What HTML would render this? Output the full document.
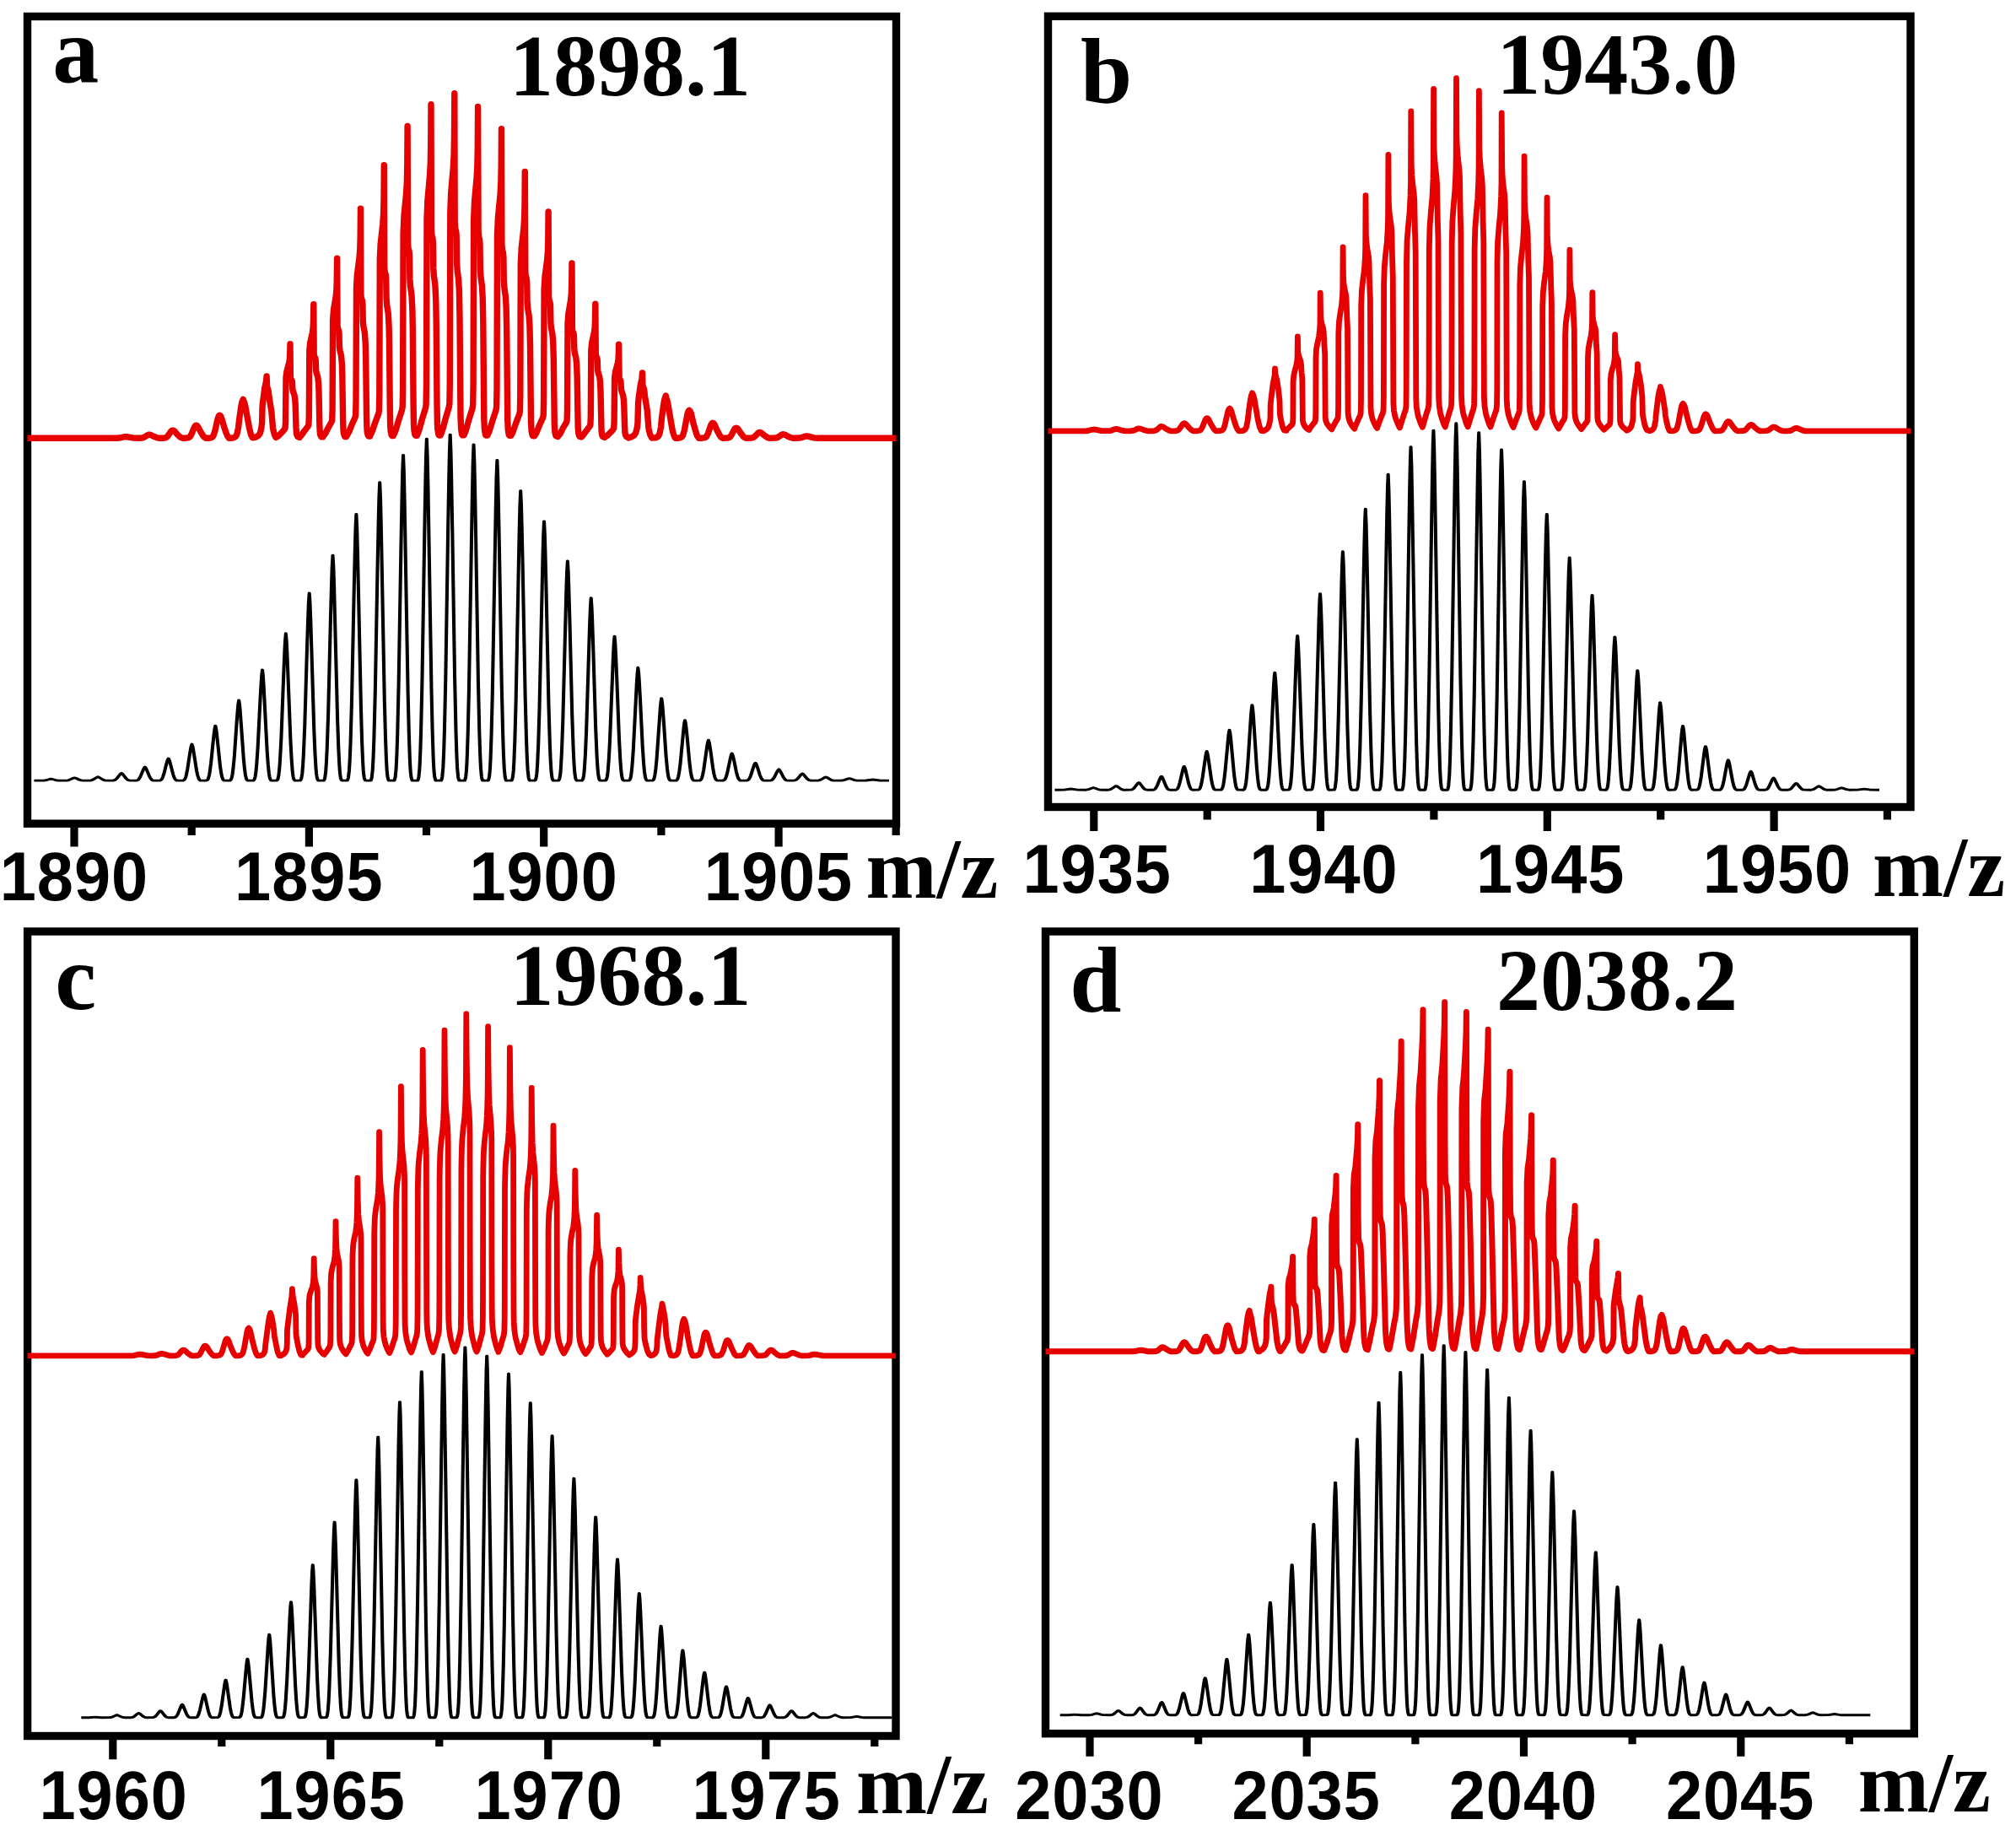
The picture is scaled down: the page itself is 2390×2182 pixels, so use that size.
<!DOCTYPE html>
<html lang="en"><head><meta charset="utf-8"><title>Mass spectra a-d</title>
<style>
html,body{margin:0;padding:0;background:#fff;}
body{width:2390px;height:2182px;overflow:hidden;}
svg{display:block;}
text{fill:#000;font-weight:bold;}
.tk{font-family:"Liberation Sans",sans-serif;font-size:77.5px;text-anchor:middle;letter-spacing:1px;}
.mz{font-family:"Liberation Serif",serif;font-size:101px;}
.lt{font-family:"Liberation Serif",serif;font-size:110px;}
.pk{font-family:"Liberation Serif",serif;font-size:104px;}
</style></head>
<body>
<svg width="2390" height="2182" viewBox="0 0 2390 2182" role="img" aria-label="Mass spectra panels a to d">
<rect x="0" y="0" width="2390" height="2182" fill="#fff"/>
<g id="panel-a">
<rect x="32.5" y="19.5" width="1030" height="956.7" fill="none" stroke="#000" stroke-width="9.4"/>
<path transform="scale(1.4 1)" d="M28.86 925.1L37.36 925L39.22 924.6L42.08 923.5L43.22 923.2L44.36 923.5L47.22 924.6L48.93 925L56.53 925.1L57.67 924.8L58.67 924.4L61.96 922.3L63.1 921.9L64.24 922.3L67.1 924.2L68.81 924.9L70.53 925.1L76.12 925.1L77.27 924.9L78.41 924.3L81.98 921.3L82.98 920.8L84.13 921.5L86.98 924L88.7 924.9L90.41 925.1L95.86 925L97.15 924.6L98.29 923.5L99.15 922.3L101.86 917.5L102.29 916.9L102.86 916.5L103.44 916.9L104.01 917.7L106.86 922.8L107.72 923.9L108.58 924.6L109.29 924.9L110.29 925.1L115.46 925.1L116.18 924.9L116.89 924.4L117.46 923.6L118.03 922.5L119.03 919.9L121.75 911L122.17 909.9L122.75 909.1L123.32 909.9L123.89 911.4L126.75 920.8L127.6 922.8L128.46 924.2L129.18 924.8L130.18 925.1L135.2 925.1L135.91 924.8L136.63 924.1L137.34 922.7L137.91 920.9L138.91 916.7L140.77 906.3L141.63 902.1L142.06 900.3L142.63 899L143.2 900.3L143.77 902.7L146.63 918L147.49 921.4L148.34 923.6L149.06 924.6L150.06 925.1L155.08 925.1L155.8 924.6L156.51 923.5L157.23 921.1L157.8 918.2L158.8 911.2L160.65 894.1L161.51 887.2L161.94 884.3L162.51 882.1L163.08 884.3L163.65 888.3L166.51 913.5L167.37 919L168.23 922.7L168.94 924.3L169.37 924.8L169.94 925.1L174.96 925L175.68 924.4L176.39 922.7L177.11 919L177.68 914.6L178.68 904.2L180.54 878.3L181.39 867.9L181.82 863.6L182.39 860.2L182.96 863.6L183.54 869.6L186.39 907.6L187.25 915.8L187.96 920.7L188.68 923.5L189.11 924.4L189.68 924.9L190.11 925.1L194.7 925.1L195.13 924.7L195.56 924.1L196.28 921.6L196.85 917.5L197.42 911.5L198.42 897L200.42 856.5L201.28 841.2L201.7 834.9L202.28 829.9L202.85 834.9L203.42 843.6L206.28 899.4L207.13 911.5L207.85 918.7L208.56 922.8L208.99 924.1L209.56 924.9L209.99 925.1L214.59 925.1L215.01 924.6L215.44 923.7L216.16 920.2L216.73 914.6L217.3 906.4L218.3 886.4L220.3 830.5L221.16 809.4L221.59 800.7L222.16 793.9L222.73 800.7L223.3 812.8L226.16 889.7L227.01 906.4L227.73 916.2L228.16 920.2L228.44 921.9L228.87 923.7L229.44 924.8L229.87 925.1L234.47 925L234.9 924.4L235.33 923.2L236.04 918.6L236.61 911.2L237.18 900.2L238.18 873.7L240.18 799.5L241.04 771.4L241.47 759.8L242.04 750.8L242.61 759.8L243.18 775.9L246.04 878L246.9 900.2L247.61 913.3L248.04 918.6L248.33 920.9L248.75 923.2L249.33 924.7L249.75 925.1L254.35 925L254.78 924.2L255.21 922.7L255.92 916.9L256.49 907.3L257.06 893.4L258.06 859.6L260.06 765L260.92 729.3L261.35 714.5L261.92 703L262.49 714.5L263.06 735L265.92 865.1L266.78 893.4L267.49 910.1L267.92 916.9L268.21 919.7L268.64 922.7L269.21 924.6L269.64 925.1L274.23 925L274.66 924L275.09 922.3L275.8 915.2L276.38 903.7L276.95 887L277.95 846.4L279.95 732.7L280.8 689.8L281.23 672L281.8 658.2L282.38 672L282.95 696.6L285.8 853L286.66 887L287.38 907L287.8 915.2L288.09 918.7L288.52 922.3L289.09 924.4L289.52 925.1L294.11 925L294.54 923.8L294.97 921.7L295.69 913.4L296.26 899.8L296.83 880.1L297.83 832L299.83 697.5L300.69 646.7L301.11 625.7L301.69 609.4L302.26 625.7L302.83 654.8L305.69 839.9L306.54 880.1L307.26 903.7L307.69 913.4L307.97 917.5L308.4 921.7L308.97 924.3L309.4 925.1L313.85 925.1L314 925L314.43 923.7L314.85 921.3L315.57 912L316.14 896.8L316.71 874.7L317.71 820.9L319.71 670.4L320.57 613.5L321 589.9L321.57 571.7L322.14 589.9L322.71 622.6L325.57 829.7L326.43 874.7L327.14 901.2L327.57 912L327.85 916.6L328.28 921.3L328.85 924.2L329.14 925L329.28 925.1L333.74 925.1L333.88 925L334.31 923.5L334.74 921L335.45 910.8L336.02 894.2L336.59 870.1L337.59 811.3L339.59 647.1L340.45 585L340.88 559.3L341.45 539.4L342.02 559.3L342.59 594.9L345.45 821L346.31 870.1L347.02 899L347.45 910.8L347.74 915.8L348.16 921L348.74 924.2L349.02 925L349.16 925.1L353.62 925.1L353.76 925L354.19 923.4L354.62 920.8L355.33 910.1L355.9 892.7L356.48 867.3L357.48 805.7L359.48 633.2L360.33 568.1L360.76 541.1L361.33 520.2L361.9 541.1L362.48 578.5L365.33 815.8L366.19 867.3L366.9 897.7L367.33 910.1L367.62 915.3L368.05 920.8L368.62 924.1L368.9 925L369.05 925.1L373.5 925.1L373.64 925L374.07 923.4L374.5 920.7L375.21 909.9L375.79 892.3L376.36 866.6L377.36 804.2L379.36 629.6L380.21 563.6L380.64 536.3L381.21 515.1L381.79 536.3L382.21 563.6L383.07 629.6L385.07 804.2L386.07 866.6L386.64 892.3L387.21 909.9L387.93 920.7L388.36 923.4L388.79 925L388.93 925.1L393.38 925.1L393.53 925L393.81 924.1L394.38 920.9L394.81 915.5L395.1 910.3L395.53 898.2L396.24 868.3L397.1 817.6L399.95 584.2L400.53 547.5L401.1 526.9L401.67 547.5L402.1 574L402.95 638.1L404.95 807.7L405.95 868.3L406.53 893.2L407.1 910.3L407.81 920.9L408.24 923.5L408.67 925L408.81 925.1L413.26 925.1L413.41 925L413.69 924.2L414.26 921.1L414.69 915.9L414.98 911L415.41 899.4L416.12 870.9L416.98 822.6L419.84 600.1L420.41 565L420.98 545.4L421.55 565L421.98 590.3L422.84 651.4L424.84 813.1L425.84 870.9L426.41 894.7L426.98 911L427.69 921.1L428.12 923.6L428.55 925L428.69 925.1L433.15 925.1L433.29 925L433.58 924.3L434.15 921.4L434.58 916.8L434.86 912.4L435.29 901.9L436 876.1L436.86 832.4L439.72 631.2L440.29 599.6L440.86 581.8L441.43 599.6L441.86 622.4L442.72 677.7L444.72 823.9L445.72 876.1L446.29 897.6L446.86 912.4L447.58 921.4L448 923.7L448.43 925L448.58 925.1L453.03 925.1L453.46 924.4L454.03 921.8L454.46 917.7L454.74 913.7L455.17 904.3L455.89 881.3L456.74 842.1L459.6 662.1L460.17 633.7L460.74 617.9L461.31 633.7L461.74 654.2L462.6 703.6L464.6 834.5L465.6 881.3L466.17 900.5L466.74 913.7L467.46 921.8L467.89 923.8L468.31 925L472.91 925.1L473.34 924.5L473.91 922.3L474.34 918.8L474.63 915.5L475.05 907.5L475.77 888L476.62 854.9L479.48 702.5L480.05 678.4L480.63 665L481.2 678.4L481.62 695.8L482.48 737.6L484.48 848.4L485.48 888L486.05 904.3L486.62 915.5L487.34 922.3L487.77 924L488.2 925L492.79 925.1L493.22 924.6L493.79 922.8L494.22 919.9L494.51 917.1L494.94 910.5L495.65 894.2L496.51 866.7L499.36 739.9L499.94 720L500.51 708.8L501.08 720L501.51 734.4L502.36 769.2L504.36 861.3L505.36 894.2L505.94 907.8L506.51 917.1L507.22 922.8L507.65 924.2L508.08 925L512.68 925.1L513.1 924.7L513.68 923.3L514.1 921L514.39 918.8L514.82 913.5L515.53 900.7L516.39 879L519.25 778.9L519.82 763.1L520.39 754.3L520.96 763.1L521.39 774.5L522.25 802L524.25 874.7L525.25 900.7L525.82 911.4L526.39 918.8L527.1 923.3L527.53 924.4L527.96 925L532.56 925.1L532.99 924.8L533.56 923.7L533.99 921.9L534.27 920.1L534.7 916L535.41 906L536.27 889L539.13 810.6L539.7 798.2L540.27 791.3L540.84 798.2L541.27 807.1L542.13 828.7L544.13 885.6L545.13 906L545.7 914.4L546.27 920.1L546.99 923.7L547.41 924.6L547.84 925.1L552.44 925.1L552.87 924.9L553.44 924.1L553.87 922.7L554.58 918.5L555.3 911.2L556.15 898.8L559.01 841.7L559.58 832.7L560.15 827.7L560.73 832.7L561.15 839.2L562.01 854.9L564.01 896.4L565.01 911.2L565.58 917.3L566.15 921.5L566.87 924.1L567.3 924.7L567.73 925.1L572.32 925.1L572.75 924.9L573.32 924.3L573.75 923.4L574.46 920.3L575.18 914.9L576.04 905.8L578.89 863.9L579.46 857.3L580.04 853.6L580.61 857.3L581.04 862.1L581.89 873.6L583.89 904L584.89 914.9L585.46 919.4L586.04 922.4L586.75 924.3L587.61 925.1L592.2 925.1L592.63 925L593.2 924.6L593.63 923.9L594.35 921.9L595.06 918.3L595.92 912.2L598.77 884.1L599.35 879.7L599.92 877.2L600.49 879.7L600.92 882.9L601.78 890.6L603.63 909.7L604.63 917.4L605.2 920.6L605.92 923.3L606.63 924.6L607.35 925L612.37 925.1L613.37 924.5L614.09 923.3L614.94 920.5L615.8 916.4L618.66 897.7L619.23 894.7L619.8 893L620.37 894.7L620.8 896.8L621.66 902L623.51 914.8L624.51 919.9L625.09 922.1L625.8 923.9L626.51 924.8L627.23 925.1L632.25 925.1L633.25 924.7L633.97 923.9L634.83 922.1L635.68 919.4L638.54 907.2L639.11 905.2L639.68 904.2L640.25 905.2L640.68 906.6L641.54 910L643.4 918.3L644.4 921.7L644.97 923.1L645.68 924.3L646.4 924.9L647.11 925.1L652.14 925.1L653.14 924.9L653.85 924.4L654.71 923.2L655.56 921.5L658.42 913.8L658.99 912.6L659.56 911.9L660.14 912.6L660.56 913.5L663.28 920.8L664.28 923L665.42 924.5L666.14 924.9L666.85 925.1L672.02 925.1L673.02 924.9L673.73 924.6L674.59 923.9L675.45 922.9L678.3 918.1L678.88 917.4L679.45 917L680.02 917.4L680.45 917.9L683.16 922.5L684.02 923.6L685.16 924.6L686.45 925.1L691.9 925.1L693.61 924.9L695.33 924L698.19 921.6L699.33 921L700.47 921.6L703.76 924.3L704.9 924.8L706.04 925.1L711.64 925.1L713.5 925L715.21 924.4L718.07 923L719.21 922.7L720.35 923L723.64 924.6L725.78 925.1L733.38 925L739.09 924L744.81 925L752.86 925.1" fill="none" stroke="#000" stroke-width="2.9" stroke-linejoin="round"/>
<path d="M32.5 519.2L137.9 519.2L141.9 519L146.9 517.8L149.1 517.6L151.3 517.8L158.5 519.1L165.3 519.2L168.1 519L169.7 518.7L171.3 518L174.7 515.8L175.9 515.3L176.9 515.2L179.1 515.7L182.3 517.3L186.3 518.9L188.1 519.2L193 519.2L195.8 518.9L197 518.5L197.6 518.1L199.2 516.4L202.6 511.4L203.8 510.4L204.8 510.1L205.8 510.4L207 511.2L210.2 514.9L212.6 517.2L214.2 518.4L216.1 519.2L220.6 519.2L223.6 518.6L224.8 518L225.4 517.4L227 514.6L230.4 506.3L231.6 504.6L232.6 504.1L233.6 504.6L234.8 505.9L238 512.1L240.4 515.9L242 517.9L243.9 519.2L248.2 519.2L250 518.8L251.2 518.3L252.4 517.3L253 516.3L254.8 511L258.2 496L259.4 493L260.4 492.2L261.4 493L262.6 495.4L265.8 506.4L268.2 513.3L269.8 516.9L270.8 518.3L271.6 518.9L271.6 519.2L275.9 519L277.7 518.4L279.1 517.6L280.3 516L281.1 513.7L282.6 506.5L283.9 495L285.9 481.3L287.1 475.9L288.3 473.4L288.7 475L289.7 477L290.5 479.8L295.5 507L297.3 514.4L298.3 516.9L299.4 518.7L299.6 518.9L302.2 518.4L303.7 517.9L305.3 516.9L306.5 516.1L307.5 514.8L308.3 513.4L308.7 512.2L309.9 506.9L310.6 501L311 483.3L311.4 478.3L313.7 460.5L315.6 451.5L316.1 445.9L316.6 458.5L317.5 460.9L318.3 464L319.1 470.9L321.9 488.2L323.5 507.1L324.1 510.3L325.3 514.9L326.5 517.5L327.1 518.4L327.3 518.3L330.3 516.3L335.2 511.4L337.3 508.9L338.1 507.2L338.5 500.5L339 447.4L339.9 440.5L342.7 430L343.4 425.8L343.8 416.2L344 407.6L344.4 447.6L344.8 449.1L346 451L346.4 452.5L346.8 460.8L347.4 463.7L349 468.2L349.8 473.4L350.2 479.9L351 506.4L351.4 513.1L351.8 515.2L352.8 517.3L353.4 517.9L355.1 518.3L355.1 517.9L356.5 516.7L358.1 514.9L361.1 510.4L365.1 505.2L365.9 503.4L366.3 493.8L366.8 415.4L367.7 406.3L370.3 394.8L371.1 388.8L371.5 380L371.8 360.7L372.2 420.2L372.6 422.3L373 423.3L373.8 424.5L374.2 426.5L374.6 438.5L375.2 442.2L376.4 445.5L376.8 447.3L377.6 454.4L378 463.7L378.8 502.5L379.2 512.1L379.6 515L380.6 517.4L381.2 517.9L382.8 517.9L382.9 517.5L384.5 515.5L386.1 513L388.9 507.3L393.1 500L393.7 497.9L394.1 485.1L394.6 379.6L395.5 367.4L398.1 351.8L398.9 343.8L399.3 332L399.6 306.1L400.1 386L400.4 388.8L400.8 390.2L401.6 391.8L402 394.5L402.4 410.7L403 415.6L404.2 420.1L404.6 422.5L405.4 432L405.8 444.6L406.6 496.7L407 509.6L407.4 513.5L408.4 516.8L409 517.5L410.6 517.5L414 511.3L416.8 504.1L421 494.7L421.6 492L422 475.7L422.5 341L423.4 325.4L426 305.6L426.8 295.4L427.2 280.3L427.5 247.2L427.9 349.2L428.3 352.8L428.7 354.6L429.3 355.7L429.5 356.6L429.9 360.1L430.3 380.7L430.9 387L432.1 392.7L432.5 395.8L433.3 407.9L433.7 423.9L434.5 490.5L434.9 506.9L435.3 512L436.3 516.1L436.9 517L438.6 517L438.6 516.6L440.2 513.6L441.8 509.8L444.6 501.2L448.8 490.1L449.4 486.9L449.8 467.5L450.3 307.4L451.2 288.8L453.8 265.3L454.6 253.1L455 235.2L455.3 195.8L455.7 317.1L456.1 321.4L456.5 323.5L457.1 324.9L457.3 325.8L457.7 330L458.1 354.5L458.7 362L459.9 368.8L460.3 372.4L461.1 386.9L461.5 405.9L462.3 485.1L462.7 504.6L463.1 510.6L464.1 515.5L464.7 516.6L466.3 516.6L468 512.8L469.6 508.5L472.4 498.6L476.6 485.9L477.2 482.2L477.6 460L478.1 277L479 255.8L481.6 228.9L482.4 215L482.8 194.5L483.1 149.5L483.6 288.1L483.9 293.1L484.3 295.4L484.9 297L485.1 298.2L485.5 302.9L485.9 330.9L486.5 339.5L487.7 347.3L488.1 351.4L488.9 367.9L489.3 389.7L490.1 480.2L490.5 502.5L490.9 509.4L491.9 515L492.5 516.2L494.3 516.2L496.1 511.9L497.5 507.7L500.3 497.2L504.5 483.6L505.1 479.7L505.5 455.9L506 260.2L506.9 237.5L509.5 208.7L510.3 193.8L510.7 172L511 123.8L511.4 272.1L511.8 277.4L512.2 279.9L512.8 281.6L513 282.8L513.4 287.9L513.8 317.9L514.4 327L515.6 335.4L516 339.8L516.8 357.4L517.2 380.7L518 477.5L518.4 501.4L518.8 508.7L519.8 514.7L520.4 516L522.1 516L523.7 512.2L525.3 507.3L528.1 496.5L532.3 482.4L532.9 478.3L533.3 453.8L533.8 251.6L534.7 228.2L537.3 198.4L538.1 183L538.5 160.4L538.8 110.7L539.2 263.9L539.8 271L540.6 273.7L541 277L541.2 280.2L541.6 311.2L542.2 320.6L543.6 331.2L544.4 345.8L545 376.1L546 494.7L546.6 508.3L547.4 513.7L547.8 515.2L548.2 515.9L549.9 515.9L550.1 515.7L552.3 510.2L555.9 497.3L560.1 483.8L560.7 479.9L561.1 456.3L561.6 261.9L562.5 239.3L565.1 210.7L565.9 196L566.3 174.2L566.6 126.4L567.1 273.7L567.6 280.5L568.4 283.1L568.8 286.3L569 289.4L569.4 319.2L570 328.3L571.4 338.5L572.2 352.5L572.8 381.6L573.8 495.6L574.4 508.7L575.2 513.9L575.6 515.4L576 516L577.8 516.1L578 515.9L580.2 510.8L583.8 498.8L588 486.2L588.6 482.5L589 460.6L589.5 279.1L590.4 258.1L593 231.4L593.8 217.6L594.2 197.3L594.5 152.7L594.9 290.1L595.5 296.5L596.3 299L596.7 301.9L596.9 304.8L597.3 332.6L597.9 341.1L599.3 350.6L600.1 363.6L600.7 390.8L601.7 497.2L602.3 509.4L603.1 514.3L603.5 515.6L603.9 516.2L605.8 516.4L608 512L611.6 501.6L615.8 490.7L616.4 487.6L616.8 468.7L617.3 312.3L618.2 294.2L620.8 271.2L621.6 259.3L622 241.8L622.3 203.4L622.8 321.8L623.3 327.3L624.1 329.4L624.5 332L624.7 334.4L625.1 358.4L625.7 365.7L627.1 373.9L627.9 385.1L628.5 408.6L629.5 500.2L630.1 510.8L630.9 515L631.3 516.1L631.7 516.6L633.6 516.8L635.8 513.1L639.4 504.3L643.6 495L644.2 492.4L644.6 476.3L645.1 343.5L646 328.1L648.6 308.5L649.4 298.4L649.8 283.6L650.1 250.9L650.6 351.5L651.1 356.2L651.9 358L652.3 360.2L652.5 362.3L652.9 382.6L653.5 388.8L654.9 395.8L655.7 405.3L656.3 425.2L657.3 503.1L657.9 512.1L658.7 515.6L659.1 516.6L659.5 517L661.3 517.1L661.5 517.3L663.5 514.8L664.7 512.8L667.3 507.7L671.5 500.5L672.1 498.5L672.5 486.1L673 383.5L673.9 371.6L676.5 356.5L677.3 348.7L677.7 337.3L678 312L678.4 389.7L679 393.3L679.8 394.7L680.2 396.4L680.4 398L680.8 413.7L681.4 418.5L682.8 423.9L683.6 431.3L684.2 446.6L685.2 506.8L685.8 513.7L686.6 516.4L687 517.2L687.4 517.5L689.1 517.5L689.3 517.8L691.3 515.8L692.5 514.3L695.1 510.4L699.3 504.9L699.9 503.3L700.3 493.8L700.8 415.1L701.7 406L704.3 394.4L705.1 388.4L705.5 379.7L705.8 360.3L706.3 419.9L706.8 422.6L707.6 423.7L708 425L708.2 426.2L708.6 438.3L709.2 442L710.6 446.1L711.4 451.8L712 463.5L713 509.7L713.6 515L714.4 517.1L715.2 517.9L716.9 517.9L717.1 518.3L719.9 516.3L725.6 510.6L727.1 508.6L727.7 507.1L728.1 500.5L728.6 448L729.5 441L732.3 430.4L733 426.1L733.5 416.6L733.6 408.2L734.1 447.7L734.4 449.1L735.6 451L736 452.6L736.4 460.9L737 463.8L738.6 468.4L739.4 473.6L739.8 480.1L740.6 506.3L741 512.9L741.4 515.1L742.4 517.2L743 517.8L744.8 518.3L745 518.9L748.9 517.7L750.7 516.6L752.1 515.5L753.7 513L755 508.2L755.6 505.2L756 500.6L756.6 477.2L757.4 469.9L759.1 457.6L761 448.4L761.5 441.9L761.9 456.7L763.1 459.8L763.7 462.2L764.5 469.5L767.3 486.7L768.9 507.3L769.5 510.6L770.7 515L772.8 519.1L776.7 518.9L778.9 518.1L779.7 517.7L780.5 516.8L781.7 514.7L782.6 511.2L783.6 505.8L784.4 496.3L786.9 477.9L788.1 472.2L789.3 469L789.7 471.8L790.7 474L791.7 477.9L797.1 509.5L798.7 515.4L799.5 517.3L800.6 519.2L804.5 519.2L806.8 518.7L808.3 517.8L809.5 516.2L811.3 510.2L814.9 491L816.1 487.3L816.7 486.6L817.1 486.3L818.1 487.3L819.4 490.2L822.1 502.1L825.5 513.8L826.6 516.6L828.5 519.2L832.4 519.2L834.6 518.9L836.2 518.4L837.4 517.6L839.2 514.3L842.8 503.8L844 501.8L845 501.3L846 501.8L847.2 503.4L850 509.9L853.4 516.3L854.5 517.8L856.3 519.2L862.4 519L864 518.7L865.2 518.1L867 515.9L870.6 508.9L871.8 507.5L872.8 507.2L873.8 507.5L875 508.6L877.8 512.9L881.2 517.2L882.3 518.2L884.2 519.2L890.3 519.1L893.1 518.6L894.9 517.3L898.5 513.4L899.7 512.6L900.7 512.4L901.7 512.6L902.9 513.2L905.7 515.7L909.1 518.1L910.2 518.7L912 519.2L918.1 519.1L920.9 518.8L922.7 518L926.3 515.4L927.5 514.9L928.5 514.8L930.7 515.3L933.5 516.9L936.9 518.5L939.8 519.2L948.7 519L950.5 518.6L954.1 517.2L956.3 516.9L958.5 517.2L964.7 518.8L967.5 519.2L1062.5 519.2" fill="none" stroke="#e60000" stroke-width="7.4" stroke-linejoin="round"/>
<path d="M88 976.2V1003.6M366.4 976.2V1003.6M644.7 976.2V1003.6M923.1 976.2V1003.6M227.2 976.2V990M505.5 976.2V990M783.9 976.2V990M1062.2 976.2V990" fill="none" stroke="#000" stroke-width="9.2"/>
<text class="tk" transform="translate(87.9 1066.9) scale(1 1.05)">1890</text>
<text class="tk" transform="translate(366.3 1066.9) scale(1 1.05)">1895</text>
<text class="tk" transform="translate(644.6 1066.9) scale(1 1.05)">1900</text>
<text class="tk" transform="translate(923 1066.9) scale(1 1.05)">1905</text>
<text class="mz" x="1026.4" y="1064">m/z</text>
<text class="lt" x="62.2" y="97.4">a</text>
<text class="pk" x="604" y="113.4">1898.1</text>
</g>
<g id="panel-b">
<rect x="1242.5" y="19.3" width="1022.5" height="937.2" fill="none" stroke="#000" stroke-width="9.4"/>
<path transform="scale(1.4 1)" d="M893.21 936.2L901.14 936.1L906.73 935L912.3 936.1L919.62 936.2L921.62 935.7L924.91 934L925.93 933.6L927.07 934L929.79 935.5L931.5 936.1L933.21 936.2L938.53 936.2L939.68 935.9L940.82 935.3L944.11 932.2L945.12 931.6L946.27 932.3L948.98 935L950.7 936L952.41 936.2L957.59 936.1L958.73 935.8L959.87 934.7L960.73 933.4L963.3 928.7L963.87 927.9L964.32 927.6L964.89 928L965.46 928.9L968.18 933.9L969.04 935L969.75 935.7L970.46 936L971.46 936.2L976.5 936.2L977.21 936L977.78 935.5L978.36 934.8L978.93 933.7L979.93 931L982.5 922.2L983.07 920.8L983.52 920.2L984.09 921L984.66 922.6L987.38 931.9L988.23 934L988.95 935.2L989.66 935.9L990.66 936.2L995.55 936.2L996.27 935.9L996.98 935.1L997.55 933.8L998.12 931.9L999.12 927.3L1001.69 912L1002.27 909.5L1002.71 908.4L1003.29 909.9L1003.86 912.6L1006.57 928.7L1007.43 932.3L1008.14 934.4L1008.86 935.6L1009.29 936L1009.86 936.2L1014.75 936.1L1015.46 935.7L1016.18 934.3L1016.75 932.2L1017.32 929.1L1018.32 921.5L1020.89 896.4L1021.46 892.3L1021.91 890.5L1022.48 893L1023.05 897.5L1025.77 923.8L1026.62 929.8L1027.34 933.3L1028.05 935.2L1028.48 935.8L1029.05 936.1L1033.94 936.1L1034.66 935.4L1035.37 933.3L1035.94 930L1036.52 925.1L1037.52 913.4L1040.09 874.4L1040.66 868L1041.11 865.3L1041.68 869.1L1042.25 876L1044.96 917L1045.82 926.3L1046.54 931.7L1046.82 933.2L1047.25 934.7L1047.68 935.6L1048.25 936.1L1053 936.2L1053.43 935.8L1053.86 935L1054.57 932.1L1055.14 927.4L1055.71 920.5L1056.71 903.9L1059.28 848.6L1059.86 839.6L1060.3 835.7L1060.88 841.1L1061.45 850.9L1064.16 909L1065.02 922.2L1065.73 929.8L1066.02 932L1066.45 934.1L1066.88 935.3L1067.45 936.1L1067.75 936.2L1072.19 936.2L1072.62 935.6L1073.05 934.6L1073.77 930.5L1074.34 924L1074.91 914.5L1075.91 891.5L1078.48 815.1L1079.05 802.7L1079.5 797.3L1080.07 804.8L1080.64 818.3L1083.36 898.6L1084.21 916.8L1084.93 927.4L1085.21 930.4L1085.64 933.3L1086.07 935L1086.64 936L1086.95 936.2L1091.39 936.1L1091.82 935.4L1092.25 934.1L1092.96 928.8L1093.53 920.2L1094.11 907.7L1095.11 877.5L1097.68 776.9L1098.25 760.6L1098.7 753.5L1099.27 763.4L1099.84 781.2L1102.55 886.7L1103.41 910.7L1104.12 924.6L1104.41 928.5L1104.84 932.3L1105.27 934.6L1105.84 935.9L1106.14 936.2L1110.59 936.1L1111.02 935.2L1111.44 933.5L1112.16 926.7L1112.73 915.9L1113.3 899.9L1114.3 861.5L1116.87 733.5L1117.44 712.7L1117.89 703.7L1118.46 716.3L1119.04 738.9L1121.75 873.2L1122.61 903.8L1123.32 921.4L1123.61 926.4L1124.04 931.3L1124.46 934.2L1125.04 935.9L1125.34 936.2L1129.78 936.1L1130.21 935L1130.64 933L1131.36 924.7L1131.93 911.5L1132.5 892.1L1133.5 845.4L1136.07 690L1136.64 664.8L1137.09 653.8L1137.66 669.2L1138.23 696.6L1140.95 859.7L1141.8 896.8L1142.52 918.3L1142.8 924.4L1143.23 930.2L1143.66 933.7L1144.23 935.8L1144.54 936.2L1148.84 936.2L1148.98 936.1L1149.41 934.8L1149.84 932.4L1150.55 922.7L1151.12 907.1L1151.69 884.2L1152.69 829.2L1155.27 646L1155.84 616.3L1156.29 603.3L1156.86 621.4L1157.43 653.8L1160.14 846L1161 889.8L1161.71 915.1L1162 922.2L1162.43 929.1L1162.86 933.3L1163.43 935.7L1163.73 936.2L1168.03 936.2L1168.18 936.1L1168.61 934.6L1169.03 931.9L1169.75 921L1170.32 903.5L1170.89 877.8L1171.89 816L1174.46 610.2L1175.03 576.8L1175.48 562.3L1176.05 582.6L1176.62 618.9L1179.34 834.9L1180.2 884.1L1180.91 912.5L1181.2 920.5L1181.62 928.3L1182.05 932.9L1182.62 935.7L1182.93 936.2L1187.23 936.2L1187.37 936.1L1187.8 934.4L1188.23 931.5L1188.94 919.7L1189.52 900.6L1190.09 872.7L1191.09 805.5L1193.66 581.7L1194.23 545.4L1194.68 529.6L1195.25 551.7L1195.82 591.2L1198.54 826.1L1199.39 879.5L1200.11 910.4L1200.39 919.1L1200.82 927.6L1201.25 932.6L1201.82 935.6L1202.13 936.2L1206.43 936.2L1206.57 936.1L1207 934.4L1207.43 931.3L1208.14 918.9L1208.71 898.9L1209.28 869.7L1210.28 799.2L1212.86 564.7L1213.43 526.6L1213.88 510.1L1214.45 533.2L1215.02 574.6L1217.73 820.8L1218.59 876.8L1219.3 909.2L1219.59 918.3L1220.02 927.2L1220.45 932.4L1221.02 935.6L1221.32 936.2L1225.62 936.2L1225.77 936.1L1226.19 934.3L1226.62 931.2L1227.34 918.5L1227.91 898.2L1228.48 868.4L1229.48 796.5L1232.05 557.4L1232.62 518.5L1233.07 501.7L1233.64 525.2L1234.07 555.8L1236.79 807.2L1237.79 875.6L1238.31 901.4L1238.93 921.6L1239.36 929.2L1239.64 932.4L1240.07 935L1240.36 936L1240.5 936.2L1244.82 936.2L1244.96 936.1L1245.25 935.1L1245.68 932.6L1246.11 927.5L1246.53 919L1246.82 910L1247.53 878.3L1248.41 821.9L1251.11 578.5L1251.68 536.9L1252.27 512.8L1252.84 535.8L1253.27 565.5L1255.98 810.5L1256.84 868.9L1257.41 898.3L1258.12 922L1258.7 931.1L1259.12 934.3L1259.55 936L1259.72 936.2L1264.02 936.2L1264.3 935.7L1264.87 932.8L1265.3 927.9L1265.73 919.8L1266.02 911.3L1266.73 881L1267.6 827.3L1270.3 595.6L1270.87 556L1271.46 533L1272.04 554.9L1272.46 583.2L1275.18 816.5L1276.04 872.2L1276.61 900.1L1277.32 922.7L1277.89 931.4L1278.32 934.3L1278.75 936L1278.91 936.2L1283.21 936.2L1283.5 935.8L1284.07 933.1L1284.5 928.7L1284.93 921.3L1285.21 913.6L1285.93 886.2L1286.8 837.5L1289.5 627.4L1290.07 591.5L1290.66 570.7L1291.23 590.6L1291.66 616.2L1294.38 827.7L1295.23 878.2L1295.8 903.5L1296.52 923.9L1297.09 931.8L1297.52 934.5L1297.95 936L1298.11 936.2L1302.41 936.2L1302.69 935.8L1303.27 933.4L1303.69 929.5L1304.12 922.9L1304.41 916L1305.12 891.5L1306 848L1308.69 660.2L1309.27 628.1L1309.86 609.4L1310.43 627.2L1310.86 650.2L1313.57 839.2L1314.43 884.3L1315 907L1315.71 925.2L1316.29 932.3L1316.71 934.7L1317.14 936.1L1317.31 936.2L1321.61 936.2L1321.89 935.9L1322.46 933.9L1322.89 930.6L1323.32 925L1323.61 919.2L1324.32 898.5L1325.19 861.9L1327.89 703.7L1328.46 676.7L1329.05 661L1329.62 675.9L1330.05 695.3L1332.77 854.5L1333.63 892.5L1334.2 911.6L1334.91 927L1335.48 932.9L1335.91 934.9L1336.34 936.1L1336.5 936.2L1340.8 936.2L1341.09 935.9L1341.66 934.2L1342.09 931.5L1342.52 926.8L1342.8 921.9L1343.52 904.6L1344.39 873.9L1347.09 741.3L1347.66 718.6L1348.25 705.4L1348.82 718L1349.25 734.2L1351.96 867.7L1352.82 899.5L1353.39 915.6L1354.11 928.5L1354.68 933.4L1355.11 935.1L1355.54 936.1L1360 936.2L1360.28 936L1360.86 934.7L1361.28 932.5L1361.71 928.8L1362 925L1362.71 911.4L1363.58 887.3L1366.28 783.1L1366.86 765.3L1367.45 754.9L1368.02 764.8L1368.45 777.5L1371.16 882.4L1372.02 907.4L1372.59 920L1373.3 930.1L1373.88 934L1374.3 935.4L1374.73 936.1L1379.19 936.2L1379.48 936L1380.05 935L1380.48 933.3L1380.91 930.4L1381.19 927.5L1381.91 916.8L1382.78 898L1385.48 816.7L1386.05 802.8L1386.64 794.7L1387.21 802.4L1387.64 812.3L1390.36 894.2L1391.21 913.7L1391.79 923.5L1392.5 931.5L1393.07 934.5L1393.5 935.5L1393.93 936.1L1398.39 936.2L1398.68 936.1L1399.25 935.3L1399.68 934.1L1400.11 932L1400.39 929.8L1401.11 922L1401.98 908.3L1404.68 848.8L1405.25 838.6L1405.84 832.7L1406.41 838.4L1406.84 845.6L1409.55 905.5L1410.41 919.8L1410.98 926.9L1411.7 932.7L1412.27 935L1412.7 935.7L1413.12 936.2L1417.87 936.1L1418.44 935.6L1418.87 934.6L1419.3 933.1L1419.59 931.5L1420.3 925.8L1421.17 915.7L1423.87 872.1L1424.44 864.7L1425.04 860.4L1425.61 864.5L1426.04 869.8L1428.75 913.7L1429.61 924.2L1430.18 929.4L1430.89 933.7L1431.46 935.3L1432.32 936.2L1437.07 936.1L1437.64 935.8L1438.07 935.1L1438.5 934.1L1438.78 933L1439.5 929.1L1440.37 922.3L1443.07 892.6L1443.64 887.6L1444.23 884.6L1444.8 887.4L1445.23 891L1447.95 920.9L1448.8 928L1449.38 931.6L1450.09 934.5L1450.66 935.6L1451.52 936.2L1456.27 936.2L1456.84 935.9L1457.27 935.5L1457.98 934L1458.69 931.4L1459.57 926.6L1462.27 906.3L1462.84 902.8L1463.43 900.8L1464 902.7L1464.43 905.2L1467.14 925.7L1468 930.6L1468.57 933L1469.14 934.7L1469.86 935.8L1470.57 936.2L1475.46 936.2L1476.46 935.8L1477.18 934.8L1477.89 933.2L1478.76 930.3L1481.46 917.7L1482.03 915.5L1482.63 914.3L1483.2 915.4L1483.63 917L1486.34 929.7L1487.2 932.7L1487.77 934.2L1488.34 935.3L1489.05 935.9L1489.77 936.2L1494.66 936.2L1495.66 935.9L1496.37 935.3L1497.09 934.3L1497.96 932.4L1500.66 924.2L1501.23 922.8L1501.82 922L1502.39 922.8L1502.82 923.8L1505.54 932L1506.39 933.9L1506.96 934.9L1507.54 935.6L1508.11 936L1508.82 936.2L1513.86 936.2L1514.86 936L1515.57 935.7L1516.28 935.1L1517.16 934.1L1519.86 929.6L1520.43 928.8L1521.02 928.4L1521.59 928.8L1522.02 929.4L1524.59 933.7L1525.45 934.8L1526.59 935.8L1527.73 936.1L1533.05 936.2L1534.77 935.9L1536.35 935L1539.05 932.5L1540.21 931.8L1541.21 932.3L1543.79 934.8L1544.64 935.4L1545.79 936L1546.79 936.2L1552.11 936.2L1553.82 936.1L1555.55 935.5L1558.25 934.2L1559.41 933.8L1560.41 934.1L1563.7 935.7L1565.7 936.2L1573.02 936.1L1578.61 935.1L1584.18 936.1L1591.43 936.2" fill="none" stroke="#000" stroke-width="2.9" stroke-linejoin="round"/>
<path d="M1242.5 510.8L1287.3 510.8L1289.9 510.5L1294.3 509.3L1296.5 509L1298.5 509.2L1305.9 510.7L1313.8 510.7L1316.6 510.5L1321.2 508.8L1323.4 508.4L1325.4 508.7L1328.6 509.7L1332.5 510.6L1334.1 510.8L1339.7 510.8L1343.3 510.4L1344.7 510L1348.1 508.2L1350.2 507.8L1352.2 508.1L1355.5 509.4L1359.2 510.5L1361 510.8L1366 510.8L1368.6 510.6L1370.2 510.1L1371.6 509.3L1375 506.2L1376.2 505.5L1377.1 505.4L1379.1 506L1382.3 508.2L1386.1 510.3L1387.9 510.8L1392.6 510.8L1395.4 510.4L1397 509.7L1398.4 508.2L1401.8 503.1L1403 502L1404 501.7L1405 502L1406 502.7L1409.2 506.5L1411.6 508.9L1413 510L1414.8 510.8L1419.3 510.8L1422.1 510.2L1423.3 509.6L1423.9 508.9L1425.3 506.5L1428.7 497.9L1429.9 496.1L1430.9 495.6L1431.9 496.1L1432.9 497.3L1436.1 503.6L1438.5 507.6L1439.9 509.4L1441.6 510.8L1446 510.7L1448.8 510L1450 508.9L1450.6 508L1452.2 503.3L1455.6 488L1456.8 484.9L1457.8 484.1L1458.8 484.9L1459.8 486.9L1463 498.1L1465.3 505.1L1466.8 508.4L1468.5 510.8L1472.7 510.7L1474.7 510L1475.9 509.1L1477.1 507.3L1477.7 505.5L1479.1 498.6L1480.5 486.7L1482.3 474.1L1483.5 468.5L1484.6 465.8L1485.8 468.2L1486.8 471.8L1490.1 490.6L1490.5 493.6L1492.2 501.7L1493.4 506.3L1495.4 510.7L1498.3 510.8L1498.5 510.3L1500.1 509.7L1501.9 508.5L1503.3 506.8L1504.3 504.5L1505.6 498.7L1506 494.7L1506.2 480.1L1506.5 476.7L1508.9 456.5L1511.2 444.4L1511.5 436.9L1511.8 442.5L1513.7 449.8L1515.5 461.1L1517 474.8L1517.4 490.9L1518.1 495.2L1520.1 504.4L1520.9 506.8L1522.3 509.8L1525.2 510.4L1525.4 509.3L1531.6 503.5L1532.2 502.4L1532.6 501.2L1532.9 495.5L1533.1 452.5L1533.8 444.9L1535.2 438.8L1536.8 433.2L1537.8 427.2L1538.1 422.5L1538.4 398.9L1538.8 417.1L1539.4 420.6L1541.8 427.8L1542.4 430.6L1543.1 441.8L1543.8 448.7L1544.4 498.2L1545 501.4L1546.6 504.7L1549.1 507.7L1550.8 508.9L1552 509.5L1552.2 508.6L1557.5 501.5L1558.7 500.3L1559.2 498.9L1559.5 497.9L1559.8 489.5L1560 424.1L1560.6 413.4L1562 405.9L1563.6 398.9L1564.6 390.2L1565 383.2L1565.2 347.2L1565.7 374.8L1566.2 380.1L1567.2 384.6L1568.7 389.3L1569.2 393L1570 409.4L1570.7 419.3L1571.2 494.4L1571.8 498.7L1573.2 502.3L1576.5 506.6L1577.7 507.8L1578.9 508.8L1579.1 507.8L1584.3 498.5L1585.5 496.8L1586.1 494.9L1586.3 493.6L1586.6 482.5L1586.8 395.4L1587.5 381.2L1588.9 371.2L1590.5 361.9L1591.5 350.3L1591.8 340.9L1592.1 293L1592.5 329.8L1593.1 336.8L1594.1 342.8L1595.5 349L1596.1 354L1596.8 375.8L1597.5 389L1598.1 488.9L1598.7 494.7L1600.1 499.5L1600.9 501.2L1603.3 505.2L1604.5 506.9L1605.8 508.2L1606 507L1611.2 495L1612.4 492.8L1613 490.4L1613.2 488.7L1613.5 474.5L1613.7 362.8L1614.4 344.6L1615.8 331.8L1617.4 319.9L1618.4 305L1618.7 293L1619 231.6L1619.4 278.8L1620 287.8L1621 295.4L1622.4 303.4L1623 309.8L1623.7 337.7L1624.4 354.7L1625 482.7L1625.6 490.2L1627 496.3L1627.8 498.4L1630.2 503.6L1631.4 505.7L1632.7 507.4L1632.9 506.3L1637.9 492.8L1639.3 489.8L1639.9 486.9L1640.1 484.9L1640.4 468.3L1640.6 337.3L1641.3 316L1642.7 301L1644.3 287L1645.3 269.6L1645.6 255.5L1645.9 183.5L1646.3 238.8L1646.9 249.4L1647.9 258.3L1649.3 267.7L1649.9 275.1L1650.6 307.9L1651.3 327.8L1651.9 477.9L1652.5 486.6L1653.9 493.8L1654.7 496.3L1657.1 502.3L1658.3 504.9L1659.5 506.9L1659.8 505.6L1664.8 490L1666.2 486.4L1666.8 483.2L1667 480.8L1667.2 461.5L1667.5 309.9L1668.1 285.2L1669.5 267.8L1671.1 251.7L1672.1 231.4L1672.5 215.2L1672.8 131.8L1673.2 195.9L1673.8 208L1674.8 218.4L1676.2 229.3L1676.8 237.9L1677.5 275.8L1678.2 298.9L1678.8 472.7L1679.3 482.8L1680.8 491.1L1681.5 494L1684 501L1685.2 503.9L1686.4 506.3L1691.6 488.5L1693 484.7L1693.6 481.2L1693.8 478.7L1694.1 458.1L1694.3 295.9L1695 269.5L1696.4 250.8L1698 233.6L1699 211.9L1699.3 194.5L1699.6 105.3L1700 173.9L1700.6 186.9L1701.6 198L1703 209.6L1703.6 218.9L1704.3 259.4L1705 284.1L1705.6 470L1706.2 480.9L1707.6 489.8L1708.4 492.9L1710.8 500.3L1712 503.5L1713.3 505.9L1718.5 487.8L1719.9 483.9L1720.5 480.3L1720.7 477.7L1721 456.4L1721.2 289.2L1721.9 261.9L1723.3 242.7L1724.9 224.9L1725.9 202.6L1726.2 184.6L1726.5 92.6L1726.9 163.3L1727.5 176.8L1728.5 188.2L1729.9 200.2L1730.5 209.7L1731.2 251.5L1731.9 277L1732.5 468.8L1733.1 479.9L1734.5 489.1L1735.3 492.3L1737.7 500L1738.9 503.2L1740.2 505.8L1745.6 488L1746.8 484.9L1747.4 481.4L1747.6 478.9L1747.9 458.4L1748.1 297.2L1748.8 270.9L1750.2 252.4L1751.8 235.2L1752.8 213.7L1753.1 196.4L1753.4 107.7L1753.8 175.9L1754.4 188.8L1755.4 199.9L1756.8 211.4L1757.4 220.6L1758.1 260.9L1758.8 285.4L1759.4 470.3L1760 481.1L1761.4 489.9L1762.2 493L1764.6 500.4L1765.8 503.5L1767 506L1772.5 489.5L1773.7 486.6L1774.2 483.3L1774.5 481L1774.8 461.8L1775 311L1775.6 286.4L1777 269.1L1778.6 253.1L1779.6 232.9L1780 216.8L1780.2 133.8L1780.7 197.6L1781.2 209.7L1782.2 220L1783.7 230.8L1784.2 239.4L1785 277.1L1785.7 300L1786.2 472.9L1786.8 483L1788.2 491.2L1789 494.1L1791.5 501L1792.7 504L1793.9 506.3L1794.1 506.4L1799.3 492.4L1800.5 489.9L1801.1 487.1L1801.3 485L1801.6 468.5L1801.8 338.2L1802.5 316.9L1803.9 302L1805.5 288.1L1806.5 270.7L1806.8 256.7L1807.1 185.1L1807.5 240.1L1808.1 250.6L1809.1 259.5L1810.5 268.9L1811.1 276.3L1811.8 308.8L1812.5 328.7L1813.1 478.1L1813.7 486.8L1815.1 493.9L1815.9 496.4L1818.3 502.4L1819.5 504.9L1820.8 506.9L1821 507L1826.2 495.1L1827.4 493L1828 490.6L1828.2 488.9L1828.5 474.8L1828.7 364.1L1829.4 346.1L1830.8 333.4L1832.4 321.6L1833.4 306.8L1833.7 294.9L1834 234.1L1834.4 280.8L1835 289.8L1836 297.3L1837.4 305.2L1838 311.6L1838.7 339.2L1839.4 356.1L1840 483L1840.6 490.4L1842 496.4L1842.8 498.6L1845.2 503.6L1846.4 505.8L1847.9 507.9L1853.1 498.6L1854.3 497L1854.9 495.1L1855.1 493.8L1855.4 482.9L1855.6 397L1856.3 383L1857.7 373.1L1859.3 364L1860.3 352.5L1860.6 343.3L1860.9 296.1L1861.3 332.4L1861.9 339.3L1862.9 345.2L1864.3 351.3L1864.9 356.2L1865.6 377.7L1866.3 390.7L1866.9 489.2L1867.5 495L1868.9 499.7L1869.7 501.3L1872.1 505.2L1874.8 508.6L1880 501.5L1881.2 500.3L1881.8 498.8L1882 497.8L1882.2 489.5L1882.5 423.8L1883.1 413.2L1884.5 405.6L1886.1 398.6L1887.1 389.9L1887.5 382.8L1887.8 346.7L1888.2 374.5L1888.8 379.7L1889.8 384.2L1891.2 388.9L1891.8 392.7L1892.5 409.1L1893.2 419.1L1893.8 494.3L1894.3 498.7L1895.8 502.3L1898.8 506.3L1900.2 507.8L1901.4 508.8L1901.6 509.3L1907.8 503.6L1908.4 502.7L1908.8 501.5L1909.1 495.7L1909.3 450.6L1910 443.1L1911.4 437.6L1913 432.5L1914 426.4L1914.3 421.5L1914.6 396.7L1915 415.8L1915.6 419.4L1916.6 422.6L1918 426.1L1918.6 428.8L1919.3 440.2L1920 447.2L1920.6 498.9L1921.2 502L1922.6 504.7L1925.4 507.6L1927 508.8L1928.3 509.4L1928.5 510.2L1929.9 509.6L1931.7 508.4L1932.5 507.7L1933.3 506.5L1934.3 504.3L1935.6 498.7L1936 494.5L1936.2 476.8L1936.5 473.2L1938.9 453.5L1941.2 441L1941.5 431.7L1941.8 438.5L1943.5 445.2L1944.9 453L1945.5 457.2L1946.9 470.6L1947.4 491.1L1947.9 494.4L1949.7 502.9L1950.5 505.6L1951.3 507.6L1952.3 509.6L1955.2 510.3L1955.4 510.7L1957.2 510.3L1959.2 509.2L1960.7 507.2L1961.4 504.9L1962.8 497.8L1963.1 492.1L1965.8 470.2L1967 463.7L1968.1 460.5L1968.4 458.4L1968.7 460L1969.8 462.7L1970.8 467L1973.9 486.7L1974.3 492.3L1975.8 500.1L1977.4 506.5L1979.1 510.5L1982.7 510.8L1984.7 510.5L1986.5 509.6L1987.3 508.8L1987.9 507.9L1988.7 505.5L1989.7 501.7L1993.1 483.1L1994.3 479.3L1995.2 478.4L1996.2 479.4L1997.5 482.5L2000.1 494L2003.2 505.2L2004.2 507.9L2006 510.8L2010 510.8L2012 510.5L2013.6 510L2014.8 509L2016.6 505.1L2020 493.7L2021.2 491.3L2022.1 490.7L2023.1 491.3L2024.3 493.3L2027 500.4L2030.1 507.3L2031.1 509L2032.9 510.8L2038.8 510.6L2040.4 510.3L2041.6 509.8L2043.4 507.6L2046.8 501.1L2048 499.7L2049 499.4L2050 499.7L2051.2 500.8L2054 505.1L2057.2 509L2058.2 509.9L2059.8 510.8L2065.7 510.7L2068.5 510.1L2070.3 508.7L2073.7 504.5L2074.9 503.6L2075.9 503.4L2076.9 503.6L2078.1 504.3L2080.9 507.1L2084.1 509.6L2086.7 510.8L2092.6 510.7L2095.4 510.4L2097.2 509.5L2100.6 506.8L2101.8 506.2L2102.8 506.1L2103.8 506.2L2104.9 506.7L2107.8 508.4L2110.9 510.1L2113.6 510.8L2119.5 510.8L2122.3 510.5L2124.1 509.8L2127.5 507.9L2129.6 507.4L2131.8 507.8L2134.6 509.1L2137.8 510.3L2140.4 510.8L2265 510.8" fill="none" stroke="#e60000" stroke-width="6.8" stroke-linejoin="round"/>
<path d="M1296.8 956.5V985M1565.5 956.5V985M1834.3 956.5V985M2103.1 956.5V985M1431.2 956.5V971.6M1699.9 956.5V971.6M1968.7 956.5V971.6M2237.4 956.5V971.6" fill="none" stroke="#000" stroke-width="9.2"/>
<text class="tk" transform="translate(1300.7 1058.2) scale(1 1.05)">1935</text>
<text class="tk" transform="translate(1569.5 1058.2) scale(1 1.05)">1940</text>
<text class="tk" transform="translate(1838.2 1058.2) scale(1 1.05)">1945</text>
<text class="tk" transform="translate(2107 1058.2) scale(1 1.05)">1950</text>
<text class="mz" x="2220" y="1062">m/z</text>
<text class="lt" x="1281" y="122">b</text>
<text class="pk" x="1774.2" y="110.8">1943.0</text>
</g>
<g id="panel-c">
<rect x="32.6" y="1104" width="1029.4" height="953.5" fill="none" stroke="#000" stroke-width="9.4"/>
<path transform="scale(1.4 1)" d="M68.79 2035.7L75.28 2035.7L80.57 2035.1L86 2035.7L92.99 2035.6L93.99 2035.5L94.99 2035.1L97.99 2033.1L99 2032.7L100 2033.1L102.71 2034.9L104.29 2035.5L106 2035.7L111.14 2035.7L112.14 2035.4L113.28 2034.7L116.42 2031.1L117.43 2030.4L118.43 2031.1L121.14 2034.3L122.71 2035.4L124.43 2035.7L129.42 2035.6L130.56 2035.2L131.56 2034.3L132.42 2033.1L134.85 2028.7L135.42 2028L135.86 2027.7L136.29 2028L136.86 2028.7L139.56 2033.5L140.43 2034.6L141.14 2035.2L141.86 2035.6L142.71 2035.7L147.56 2035.7L148.28 2035.4L148.85 2035L149.42 2034.2L149.99 2033L150.85 2030.7L153.28 2022.3L153.85 2020.8L154.29 2020.2L154.71 2020.8L155.29 2022.3L157.99 2031.5L158.86 2033.6L159.57 2034.8L160.29 2035.4L161.14 2035.7L165.85 2035.7L166.56 2035.4L167.14 2034.7L167.71 2033.4L168.28 2031.5L169.28 2026.8L171.71 2011.8L172.28 2009.2L172.71 2008.1L173.14 2009.1L173.71 2011.7L176.42 2028.2L177.29 2032L178 2034.1L178.71 2035.2L179.57 2035.7L184.28 2035.6L184.99 2035.1L185.56 2034.1L186.14 2032L186.71 2028.9L187.71 2021.3L190.14 1997.1L190.71 1992.9L191.14 1991.2L191.57 1992.9L192.14 1997.1L194.85 2023.7L195.71 2029.8L196.43 2033.2L196.71 2034.1L197.14 2034.9L197.43 2035.3L198 2035.6L202.71 2035.6L203.42 2034.8L203.99 2033.2L204.56 2030L205.14 2025.1L206.14 2013.2L208.56 1975.5L209.14 1968.9L209.57 1966.2L210 1968.9L210.57 1975.4L213.28 2016.9L214 2025.1L214.71 2030.9L215.14 2033.2L215.43 2034.1L215.86 2035.1L216.29 2035.5L216.71 2035.7L220.99 2035.7L221.42 2035.2L221.85 2034.5L222.42 2032.1L222.99 2027.6L223.56 2020.7L224.56 2003.8L226.99 1950.3L227.56 1941L228 1937.1L228.43 1940.9L229 1950.2L231.71 2009.1L232.43 2020.6L233.14 2028.8L233.57 2032.1L233.86 2033.4L234.29 2034.8L234.71 2035.4L235.14 2035.7L239.42 2035.7L239.85 2035.1L240.28 2034L240.85 2030.8L241.42 2024.4L241.99 2014.9L242.99 1991.3L245.42 1917L245.99 1904L246.43 1898.6L246.86 1903.9L247.43 1916.8L250.14 1998.7L250.86 2014.7L251.57 2026.2L252 2030.7L252.29 2032.6L252.71 2034.4L253.14 2035.3L253.57 2035.7L257.85 2035.6L258.28 2034.9L258.71 2033.4L259.28 2029.2L259.85 2020.8L260.42 2008.2L261.42 1977.1L263.85 1878.9L264.42 1861.8L264.86 1854.7L265.29 1861.7L265.86 1878.6L268.56 1986.8L269.29 2008L270 2023.1L270.43 2029.1L270.71 2031.6L271.14 2034L271.57 2035.2L272 2035.7L276.28 2035.6L276.71 2034.6L277.14 2032.8L277.71 2027.4L278.28 2016.6L278.85 2000.5L279.85 1960.7L282.28 1835L282.85 1813.2L283.29 1804L283.71 1813L284.29 1834.7L286.99 1973.1L287.71 2000.2L288.43 2019.6L288.86 2027.2L289.14 2030.4L289.57 2033.6L290 2035L290.43 2035.7L294.71 2035.6L295.14 2034.4L295.56 2032.2L296.14 2025.5L296.71 2012.5L297.28 1992.9L298.28 1944.5L300.71 1791.7L301.28 1765.1L301.71 1754L302.14 1764.9L302.71 1791.3L305.42 1959.6L306.14 1992.6L306.86 2016.1L307.29 2025.4L307.57 2029.3L308 2033.1L308.43 2034.9L308.86 2035.7L312.99 2035.7L313.14 2035.6L313.56 2034.2L313.99 2031.5L314.56 2023.7L315.14 2008.3L315.71 1985.2L316.71 1928.1L319.14 1747.8L319.71 1716.5L320.14 1703.3L320.57 1716.2L321.14 1747.3L323.85 1946L324.57 1984.8L325.29 2012.6L325.71 2023.6L326 2028.1L326.43 2032.6L326.86 2034.7L327.14 2035.6L327.29 2035.7L331.42 2035.7L331.56 2035.6L331.99 2034L332.42 2031L332.99 2022.2L333.56 2004.9L334.14 1978.9L335.14 1914.6L337.56 1711.8L338.14 1676.6L338.57 1661.8L339 1676.2L339.57 1711.3L342.28 1934.7L343 1978.5L343.71 2009.7L344.14 2022.1L344.43 2027.2L344.86 2032.2L345.29 2034.6L345.57 2035.6L345.71 2035.7L349.85 2035.7L349.99 2035.6L350.42 2033.8L350.85 2030.6L351.42 2020.9L351.99 2001.9L352.56 1973.4L353.56 1902.9L355.99 1680.5L356.56 1641.8L357 1625.6L357.43 1641.5L358 1679.9L360.71 1925L361.43 1972.9L362.14 2007.2L362.57 2020.7L362.86 2026.3L363.29 2031.9L363.71 2034.5L364 2035.5L364.14 2035.7L368.28 2035.7L368.42 2035.5L368.85 2033.7L369.28 2030.3L369.85 2020.2L370.42 2000.3L370.99 1970.3L371.99 1896.3L374.42 1662.9L374.99 1622.4L375.43 1605.4L375.86 1622L376.43 1662.3L379.14 1919.5L379.86 1969.8L380.57 2005.7L381 2020L381.29 2025.9L381.71 2031.7L382.14 2034.5L382.43 2035.5L382.57 2035.7L386.71 2035.7L386.85 2035.5L387.28 2033.7L387.71 2030.2L388.28 2019.9L388.85 1999.6L389.42 1969L390.42 1893.6L392.85 1655.6L393.42 1614.3L393.86 1596.9L394.29 1613.9L394.86 1655L397.43 1906L398.29 1968.6L398.86 1999.2L399.43 2019.7L400 2030.1L400.43 2033.6L400.86 2035.5L401.01 2035.7L405.14 2035.7L405.28 2035.5L405.56 2034.5L405.99 2031.8L406.42 2026L406.71 2020.3L407.14 2006.2L407.85 1970.6L408.58 1920L411.28 1664.4L411.85 1624L412.29 1607.1L412.71 1623.6L413.29 1663.8L415.86 1909L416.71 1970.1L417.29 2000.1L417.86 2020.1L418.43 2030.2L418.86 2033.7L419.29 2035.5L419.44 2035.7L423.56 2035.7L423.71 2035.6L423.99 2034.6L424.42 2032L424.85 2026.5L425.14 2021L425.56 2007.6L426.28 1973.8L427.01 1925.7L429.71 1682.7L430.28 1644.3L430.71 1628.2L431.14 1643.9L431.71 1682.1L434.29 1915.2L435.14 1973.3L435.71 2001.8L436.29 2020.8L436.86 2030.5L437.29 2033.8L437.71 2035.5L437.86 2035.7L441.99 2035.7L442.14 2035.6L442.42 2034.7L442.85 2032.3L443.28 2027.3L443.56 2022.3L443.99 2010L444.71 1979L445.44 1935L448.14 1712.7L448.71 1677.5L449.14 1662.8L449.57 1677.2L450.14 1712.1L452.71 1925.5L453.57 1978.6L454.14 2004.7L454.71 2022.1L455.29 2030.9L455.71 2033.9L456.14 2035.6L456.29 2035.7L460.42 2035.7L460.56 2035.6L460.85 2034.8L461.28 2032.7L461.71 2028.2L461.99 2023.7L462.42 2012.7L463.14 1984.9L463.86 1945.5L466.56 1746.3L467.14 1714.9L467.57 1701.7L468 1714.6L468.57 1745.9L471.14 1936.9L472 1984.6L472.57 2007.9L473.14 2023.5L473.71 2031.4L474.14 2034.1L474.57 2035.6L474.72 2035.7L478.85 2035.7L479.28 2034.9L479.71 2033.1L480.14 2029.3L480.42 2025.5L480.85 2016.2L481.56 1992.6L482.29 1959.2L484.99 1790.2L485.56 1763.5L486 1752.3L486.43 1763.3L487 1789.8L489.57 1951.9L490.43 1992.3L491 2012.2L491.57 2025.4L492.14 2032.1L492.57 2034.4L493 2035.6L493.15 2035.7L497.28 2035.7L497.71 2035L498.14 2033.5L498.56 2030.3L498.85 2027.1L499.28 2019.3L499.99 1999.6L500.72 1971.5L503.42 1829.7L503.99 1807.3L504.43 1797.9L504.86 1807.1L505.43 1829.4L508 1965.4L508.86 1999.3L509.43 2015.9L510 2027L510.57 2032.7L511 2034.6L511.43 2035.6L515.71 2035.7L516.14 2035.2L516.56 2034L516.99 2031.5L517.28 2028.9L517.71 2022.8L518.42 2007.2L519.15 1985L521.85 1873.1L522.42 1855.4L522.86 1847.9L523.29 1855.2L523.86 1872.8L526.43 1980.2L527.29 2007L527.86 2020.1L528.43 2028.9L529 2033.3L529.43 2034.8L529.86 2035.6L534.14 2035.7L534.56 2035.3L534.99 2034.4L535.42 2032.4L535.71 2030.4L536.14 2025.6L536.85 2013.3L537.58 1995.9L540.28 1908.2L540.85 1894.3L541.29 1888.5L541.71 1894.2L542.29 1908L544.86 1992.2L545.71 2013.2L546.29 2023.5L546.86 2030.3L547.43 2033.8L547.86 2035L548.29 2035.6L552.56 2035.7L552.99 2035.4L553.42 2034.7L553.85 2033.3L554.14 2031.8L554.56 2028.2L555.28 2019.2L556.01 2006.4L558.71 1941.8L559.28 1931.6L559.71 1927.3L560.14 1931.5L560.71 1941.7L563.29 2003.7L564.14 2019.1L564.71 2026.7L565.29 2031.7L565.86 2034.3L566.29 2035.2L566.71 2035.7L570.99 2035.7L571.42 2035.5L571.85 2035L572.28 2033.9L572.56 2032.8L572.99 2030.2L573.71 2023.6L574.44 2014.2L577.14 1966.7L577.71 1959.2L578.14 1956L578.57 1959.1L579.14 1966.6L581.71 2012.2L582.57 2023.5L583.14 2029.1L583.71 2032.8L584.29 2034.7L584.71 2035.3L585.14 2035.7L589.42 2035.7L589.85 2035.5L590.28 2035.2L590.71 2034.5L590.99 2033.8L591.42 2032L592.14 2027.5L592.86 2021.2L595.56 1989.2L596.14 1984.2L596.57 1982.1L597 1984.1L597.57 1989.2L600.14 2019.8L601 2027.5L601.57 2031.2L602.14 2033.7L602.71 2035L603.57 2035.7L608.28 2035.6L608.71 2035.4L609.14 2034.9L609.85 2033.2L610.56 2030.1L611.29 2025.8L613.99 2003.9L614.56 2000.4L615 1999L615.43 2000.4L616 2003.8L618.57 2024.8L619.43 2030.1L620 2032.6L620.57 2034.4L621.14 2035.2L621.86 2035.6L626.56 2035.7L627.42 2035.3L628.14 2034.4L628.85 2032.6L629.72 2029.4L632.42 2015.6L632.99 2013.4L633.43 2012.5L633.86 2013.4L634.43 2015.5L637 2028.8L637.86 2032.1L638.43 2033.8L639 2034.9L639.57 2035.4L640.29 2035.7L644.99 2035.7L645.85 2035.4L646.56 2034.9L647.28 2033.7L648.15 2031.7L650.85 2022.9L651.42 2021.5L651.86 2020.9L652.29 2021.5L652.86 2022.9L655.43 2031.3L656.29 2033.4L656.86 2034.5L657.43 2035.2L658 2035.5L658.71 2035.7L663.42 2035.7L664.28 2035.6L664.99 2035.2L665.71 2034.6L666.58 2033.5L669.28 2028.7L669.85 2028L670.29 2027.7L670.71 2028L671.29 2028.7L673.71 2033.1L674.57 2034.3L675.71 2035.3L677 2035.7L681.85 2035.7L683.42 2035.4L685.01 2034.3L687.71 2031.1L688.71 2030.4L689.71 2031.1L692.14 2034L693 2034.8L694.14 2035.5L695.14 2035.7L700.14 2035.7L701.85 2035.5L703.44 2034.9L706.14 2033.1L707.14 2032.7L708.14 2033.1L711.29 2035.1L712.43 2035.5L713.43 2035.7L720.28 2035.6L725.57 2034.4L729.57 2035.4L731.57 2035.7L755.36 2035.7" fill="none" stroke="#000" stroke-width="2.9" stroke-linejoin="round"/>
<path d="M32.6 1606.8L155.2 1606.8L159.2 1606.6L163.8 1605.3L165.8 1605.1L167.8 1605.3L174.4 1606.6L180.6 1606.8L184.8 1606.5L186.4 1606.1L189.6 1604.7L191.6 1604.4L193.6 1604.7L200.2 1606.6L201.9 1606.8L206.2 1606.8L209 1606.6L210.6 1606.1L212.2 1604.8L215.4 1601L216.4 1600.3L217.4 1600.1L218.4 1600.3L219.4 1600.8L222.2 1603.4L226 1606.2L227.7 1606.8L232 1606.8L234.8 1606.4L236.4 1605.6L238 1603.3L241.2 1596.8L242.2 1595.5L243.2 1595.1L244.2 1595.4L245.2 1596.4L248 1600.9L250.4 1604.2L251.8 1605.7L253.5 1606.8L257.6 1606.8L260.4 1606.2L261.6 1605.4L262.2 1604.7L263.8 1600.9L267 1589.6L268 1587.5L268.6 1586.9L269 1586.7L270 1587.4L271 1589L273.8 1596.8L276.2 1602.3L277.6 1604.9L279.4 1606.8L283.4 1606.8L285 1606.4L286.2 1605.8L287.4 1604.5L288 1603.3L289.6 1597.2L292.8 1578.8L293.8 1575.3L294.4 1574.4L294.8 1574.1L295.8 1575.1L296.8 1577.8L299.6 1590.5L302 1599.5L303.4 1603.7L305.2 1606.8L309 1606.6L310.8 1605.9L312.2 1604.9L313.4 1602.9L314 1600.8L314.4 1598.4L314.7 1593.8L318.4 1565.8L319.4 1560.4L320.6 1556.1L321.8 1559.6L322.8 1563.9L324.8 1576.9L325.3 1583.7L328.6 1600.2L329.4 1603.1L331 1606.6L332.9 1606.8L332.9 1606.3L335.4 1605.5L336.7 1604.5L337.8 1603.4L339.2 1601.1L339.9 1598.1L340.3 1592.6L340.5 1576.7L340.7 1574.5L343.6 1551.1L345.9 1536.6L346.4 1527.7L347.2 1536.1L349.2 1547.1L350.6 1558.1L351 1580.9L351.4 1584.8L353.6 1596.2L355 1601.6L356.8 1605.9L358.6 1606.3L358.7 1605.4L361.3 1603.3L364.9 1599.3L365.5 1598.2L365.7 1597.2L366 1593L366.1 1586.5L366.3 1544.7L366.5 1541.1L366.9 1536.5L367.3 1534.2L368.5 1530.4L370.1 1526.6L370.9 1523.1L371.3 1520.2L371.7 1515.4L371.9 1509.5L372.2 1491.7L372.6 1505.5L373.2 1515.3L373.8 1519.3L375.6 1525.2L376.2 1528.8L376.4 1532L376.6 1573.4L376.8 1590L377 1594.1L377.6 1597L379 1600.1L382 1603.6L383.2 1604.7L384.4 1605.4L384.5 1604.9L387.1 1601.9L390.7 1596.5L391.3 1594.9L391.5 1593.5L391.8 1587.7L391.9 1578.8L392.1 1520.9L392.3 1516L392.7 1509.6L393.1 1506.5L394.3 1501.2L395.9 1496L396.7 1491.1L397.1 1487.1L397.5 1480.4L397.7 1472.3L398 1447.7L398.4 1466.8L399 1480.3L399.6 1485.8L401.4 1494L402 1499L402.2 1503.4L402.4 1560.7L402.6 1583.6L402.8 1589.2L403.4 1593.3L404.8 1597.5L407.8 1602.4L409 1603.8L410.2 1604.8L410.3 1604.3L413.1 1599.9L415.3 1595.2L416.5 1593.1L417.1 1591L417.3 1589.2L417.6 1581.5L417.7 1569.7L417.9 1493L418.1 1486.5L418.5 1478.1L418.9 1473.9L420.1 1466.9L421.7 1460L422.5 1453.5L422.9 1448.2L423.3 1439.3L423.5 1428.6L423.8 1396.1L424.2 1421.4L424.8 1439.2L425.4 1446.5L427.2 1457.3L427.8 1463.9L428 1469.8L428.2 1545.7L428.4 1576.1L428.6 1583.5L429.2 1588.9L430.6 1594.5L431.6 1596.9L433.6 1600.9L434.8 1602.9L436 1604.2L436.1 1603.6L438.7 1598.6L441.1 1592.2L442.3 1589.6L442.9 1586.9L443.1 1584.6L443.4 1575L443.5 1560.1L443.7 1463.7L443.9 1455.5L444.3 1444.9L444.7 1439.6L445.9 1430.8L447.5 1422.1L448.3 1414L448.7 1407.3L449.1 1396.2L449.3 1382.7L449.6 1341.7L450 1373.5L450.6 1396L451.2 1405.1L453 1418.8L453.6 1427.1L453.8 1434.5L454 1529.9L454.2 1568.2L454.4 1577.4L455 1584.3L456.4 1591.3L457.4 1594.4L459.4 1599.4L460.6 1601.9L461.8 1603.5L464.5 1597L466.9 1589.3L468.1 1586L468.7 1582.9L468.9 1580.1L469.2 1568.5L469.3 1550.6L469.5 1434.5L469.7 1424.7L470.1 1411.9L470.5 1405.5L471.7 1395L473.3 1384.5L474.1 1374.7L474.5 1366.6L474.9 1353.3L475.1 1337L475.4 1287.7L475.8 1326L476.4 1353.1L477 1364.1L478.8 1380.4L479.4 1390.5L479.6 1399.4L479.8 1514.3L480 1560.3L480.2 1571.5L480.8 1579.7L482.2 1588.1L483.2 1591.8L485.2 1597.9L486.4 1600.9L487.6 1602.9L490.3 1595.6L492.7 1586.9L493.9 1583.2L494.5 1579.6L494.7 1576.5L495 1563.3L495.1 1543L495.3 1411.1L495.5 1399.9L495.9 1385.4L496.3 1378.2L497.5 1366.2L499.1 1354.3L499.9 1343.2L500.3 1334L500.7 1318.8L500.9 1300.4L501.2 1244.4L501.6 1287.9L502.2 1318.6L502.8 1331.1L504.6 1349.7L505.2 1361.1L505.4 1371.2L505.6 1501.7L505.8 1554L506 1566.7L506.6 1576L507.4 1582.2L508.2 1586.6L511.2 1597.3L512.4 1600.5L513.5 1602.5L516.1 1594.9L518.5 1585.6L519.7 1581.7L520.3 1577.9L520.5 1574.5L520.8 1560.5L520.9 1538.9L521.1 1398.5L521.3 1386.6L521.7 1371.2L522.1 1363.5L523.3 1350.7L524.9 1338L525.7 1326.2L526.1 1316.4L526.5 1300.3L526.7 1280.6L527 1221.1L527.4 1267.4L528 1300L528.6 1313.3L530.4 1333.1L531 1345.3L531.2 1356.1L531.4 1494.9L531.6 1550.6L531.8 1564.1L532.4 1574L533.8 1584.2L534.8 1588.7L536.8 1596.1L538 1599.6L539.2 1602L540.3 1599.3L541.8 1594.6L544.5 1583.8L545.5 1580.5L546.1 1576.4L546.3 1572.9L546.6 1558.2L546.7 1535.5L546.9 1388.1L547.1 1375.6L547.5 1359.4L547.9 1351.3L549.1 1337.9L550.7 1324.6L551.5 1312.1L551.9 1301.9L552.3 1284.9L552.5 1264.3L552.8 1201.7L553.2 1250.3L553.8 1284.7L554.4 1298.6L556.2 1319.4L556.8 1332.2L557 1343.5L557.2 1489.3L557.4 1547.8L557.6 1561.9L558.2 1572.4L559 1579.3L559.8 1584.2L562.8 1596.2L564 1599.8L565.1 1601.9L566.1 1599.6L567.7 1594.8L570.1 1585.3L571.3 1581.4L571.9 1577.5L572.1 1574.2L572.4 1560L572.5 1538.1L572.7 1396.2L572.9 1384.1L573.3 1368.5L573.7 1360.7L574.9 1347.8L576.5 1335L577.3 1323L577.7 1313.2L578.1 1296.8L578.3 1277L578.6 1216.7L579 1263.5L579.6 1296.6L580.2 1310L582 1330.1L582.6 1342.3L582.8 1353.3L583 1493.7L583.2 1550L583.4 1563.6L584 1573.6L585.4 1584L586.4 1588.5L588.4 1595.9L589.6 1599.5L590.9 1602.1L590.9 1602.4L593.5 1595.5L595.9 1586.7L597.1 1583.1L597.7 1579.4L597.9 1576.3L598.2 1563L598.3 1542.5L598.5 1409.7L598.7 1398.4L599.1 1383.8L599.5 1376.5L600.7 1364.4L602.3 1352.4L603.1 1341.2L603.5 1332L603.9 1316.7L604.1 1298.1L604.4 1241.7L604.8 1285.5L605.4 1316.5L606 1329.1L607.8 1347.8L608.4 1359.3L608.6 1369.5L608.8 1500.9L609 1553.6L609.2 1566.4L609.8 1575.8L610.6 1582L611.4 1586.4L614.6 1597.9L615.8 1600.9L616.9 1602.6L619.3 1597L621.7 1589.3L622.9 1586.2L623.5 1583L623.7 1580.2L624 1568.7L624.1 1550.9L624.3 1435.4L624.5 1425.6L624.9 1412.9L625.3 1406.6L626.5 1396.1L628.1 1385.6L628.9 1375.9L629.3 1367.9L629.7 1354.6L629.9 1338.4L630.2 1289.4L630.6 1327.5L631.2 1354.4L631.8 1365.3L633.6 1381.6L634.2 1391.6L634.4 1400.5L634.6 1514.8L634.8 1560.5L635 1571.6L635.6 1579.8L637 1588.2L638 1591.9L640 1598L641.4 1601.3L642.5 1603L642.5 1603.5L645.1 1598.4L647.5 1591.8L648.7 1589.1L649.3 1586.3L649.5 1584L649.8 1574.1L649.9 1558.8L650.1 1459.5L650.3 1451.1L650.7 1440.2L651.1 1434.7L652.3 1425.7L653.9 1416.8L654.7 1408.4L655.1 1401.5L655.5 1390.1L655.7 1376.2L656 1334.1L656.4 1366.8L657 1389.9L657.6 1399.3L659.4 1413.3L660 1421.9L660.2 1429.5L660.4 1527.7L660.6 1567.1L660.8 1576.6L661.4 1583.6L662.2 1588.3L663 1591.6L666 1599.7L667.2 1602.1L668.5 1603.9L670.9 1600L673.3 1594.7L674.5 1592.5L675.1 1590.3L675.3 1588.4L675.6 1580.5L675.7 1568.2L675.9 1488.3L676.1 1481.6L676.5 1472.8L676.9 1468.4L678.1 1461.1L679.7 1453.9L680.5 1447.2L680.9 1441.6L681.3 1432.5L681.5 1421.3L681.8 1387.4L682.2 1413.7L682.8 1432.3L683.4 1439.9L685.2 1451.1L685.8 1458.1L686 1464.2L686.2 1543.2L686.4 1574.8L686.6 1582.5L687.2 1588.2L688 1591.9L688.8 1594.6L691.8 1601.1L692.8 1602.7L694.3 1604.6L696.7 1601.7L699.1 1597.6L700.3 1596L700.9 1594.3L701.1 1592.8L701.4 1586.8L701.5 1577.4L701.7 1516.8L701.9 1511.6L702.3 1505L702.7 1501.6L703.9 1496.1L705.5 1490.6L706.3 1485.5L706.7 1481.3L707.1 1474.3L707.3 1465.8L707.6 1440.1L708 1460.1L708.6 1474.2L709.2 1480L711 1488.5L711.6 1493.8L711.8 1498.4L712 1558.4L712.2 1582.5L712.4 1588.3L713 1592.6L714.4 1597.1L717.2 1601.9L718.6 1603.7L719.9 1604.8L719.9 1605.3L722.5 1602.9L726.1 1598.6L726.7 1597.4L726.9 1596.3L727.2 1591.7L727.3 1584.7L727.5 1538.9L727.7 1535L728.1 1530L728.5 1527.5L729.7 1523.3L731.3 1519.2L732.1 1515.3L732.5 1512.2L732.9 1506.9L733.1 1500.5L733.4 1481.1L733.8 1496.2L734.4 1506.8L735 1511.1L736.8 1517.6L737.4 1521.6L737.6 1525.1L737.8 1570.3L738 1588.5L738.2 1592.9L738.8 1596.1L740.2 1599.4L742.8 1602.9L744.4 1604.5L745.7 1605.3L745.9 1605.9L748.2 1604.8L750.4 1602.8L752 1600.4L752.7 1597.5L753.1 1590.3L753.3 1566.1L753.5 1563.5L755.3 1549.1L758.6 1529L759 1522.2L759.2 1514.4L759.6 1522.4L760.2 1528.5L762.4 1540.3L763.4 1548.7L763.6 1572.7L764 1585.7L764.4 1588.4L765.8 1594.7L767.6 1601.1L769.5 1605.3L771.5 1606L771.5 1606.6L774 1606.1L776.2 1604.7L777.6 1602.6L778.3 1600.2L778.9 1595.6L779.1 1588L781.2 1570.6L782.8 1558.1L783.8 1552.3L784.5 1549.2L785 1545.1L787.2 1555.7L789 1568L789.6 1581.2L790 1584.2L793 1599.7L793.8 1602.6L795.3 1606.4L797.3 1606.6L797.5 1606.8L799.2 1606.7L800.6 1606.3L801.8 1605.8L802.4 1605.2L803.2 1604.2L803.8 1602.9L804.6 1599.4L805.6 1593.4L808.8 1570L809.8 1565.5L810.8 1563.4L811.8 1565.2L812.8 1568.6L814.4 1577.7L815.5 1585.4L818.2 1598.4L819.4 1602.8L821.1 1606.8L825 1606.8L826.8 1606.4L828.4 1605.7L829.6 1604.3L830.4 1602.2L831.4 1598.6L834.6 1583.1L835.6 1580.1L836.2 1579.3L836.6 1579.1L837.6 1580L838.6 1582.2L841.4 1593L844.4 1602.3L845.4 1604.6L846.9 1606.8L850.8 1606.8L852.6 1606.6L854.2 1606.1L855.4 1605.1L857.2 1601.4L860.4 1591L861.4 1589.1L862.4 1588.4L863.4 1589L864.4 1590.5L867.2 1597.6L870.2 1603.8L871.2 1605.3L872.7 1606.8L878.4 1606.6L880 1606.3L881.2 1605.7L883 1603.1L886.2 1596.2L887.2 1594.9L888.2 1594.4L889.2 1594.8L890.2 1595.8L893 1600.6L896 1604.8L897 1605.8L898.5 1606.8L904.2 1606.7L907 1606.2L908.8 1604.8L912 1601L913 1600.3L914 1600.1L915 1600.3L916 1600.8L918.8 1603.4L921.8 1605.7L924.3 1606.8L930 1606.8L932.8 1606.5L934.6 1605.8L937.8 1603.9L939.8 1603.4L941.8 1603.8L947.6 1606.2L950.1 1606.8L958.6 1606.6L960.4 1606.3L963.6 1605.3L965.6 1605.1L967.6 1605.3L973.4 1606.5L975.9 1606.8L1062 1606.8" fill="none" stroke="#e60000" stroke-width="6.8" stroke-linejoin="round"/>
<path d="M133.8 2057.5V2085.3M391.8 2057.5V2085.3M649.8 2057.5V2085.3M907.8 2057.5V2085.3M262.8 2057.5V2070M520.8 2057.5V2070M778.8 2057.5V2070M1036.8 2057.5V2070" fill="none" stroke="#000" stroke-width="9.2"/>
<text class="tk" transform="translate(134.7 2156.4) scale(1 1.05)">1960</text>
<text class="tk" transform="translate(392.7 2156.4) scale(1 1.05)">1965</text>
<text class="tk" transform="translate(650.7 2156.4) scale(1 1.05)">1970</text>
<text class="tk" transform="translate(908.7 2156.4) scale(1 1.05)">1975</text>
<text class="mz" x="1015" y="2149">m/z</text>
<text class="lt" x="65.2" y="1195.8">c</text>
<text class="pk" x="604.5" y="1190.8">1968.1</text>
</g>
<g id="panel-d">
<rect x="1239.5" y="1104" width="1029.8" height="950.7" fill="none" stroke="#000" stroke-width="9.4"/>
<path transform="scale(1.4 1)" d="M897.64 2032.7L905 2032.7L910.27 2032.1L915.7 2032.7L922.66 2032.7L924.66 2032.3L927.66 2031L928.64 2030.8L929.64 2031L932.34 2032.2L933.93 2032.6L940.75 2032.7L941.75 2032.4L942.89 2031.7L946.03 2028.1L947.02 2027.5L948.02 2028.1L950.71 2031.3L952.3 2032.4L953.88 2032.7L958.83 2032.7L959.98 2032.3L961.12 2031.2L961.98 2029.9L964.41 2025.2L964.83 2024.6L965.39 2024.1L965.82 2024.4L966.39 2025.3L969.09 2030.4L969.96 2031.6L970.68 2032.2L971.39 2032.6L972.25 2032.7L977.07 2032.7L977.78 2032.4L978.35 2032L978.92 2031.2L979.5 2030L980.35 2027.7L982.78 2019.4L983.21 2018.3L983.77 2017.5L984.2 2018L984.77 2019.5L987.46 2028.6L988.34 2030.7L989.05 2031.8L989.77 2032.4L990.63 2032.7L995.3 2032.7L996.01 2032.4L996.58 2031.7L997.16 2030.5L997.73 2028.7L998.58 2024.9L1001.16 2009.9L1001.58 2007.9L1002.14 2006.5L1002.57 2007.5L1003.14 2009.9L1005.84 2025.6L1006.71 2029.2L1007.43 2031.2L1008.14 2032.3L1009 2032.7L1013.67 2032.6L1014.39 2032.1L1014.96 2031.1L1015.53 2029.1L1016.1 2026L1016.96 2019.7L1019.53 1994.5L1019.96 1991.2L1020.52 1988.8L1020.95 1990.5L1021.52 1994.6L1024.21 2020.8L1025.09 2026.9L1025.8 2030.2L1026.09 2031.1L1026.52 2032L1026.8 2032.3L1027.38 2032.6L1032.05 2032.6L1032.76 2031.9L1033.33 2030.3L1033.91 2027.2L1034.48 2022.6L1035.33 2013.1L1037.91 1975.1L1038.33 1970.2L1038.89 1966.5L1039.32 1969L1039.89 1975.3L1042.59 2014.8L1043.32 2022.7L1044.04 2028.2L1044.46 2030.3L1044.75 2031.2L1045.18 2032.1L1045.61 2032.5L1046.02 2032.7L1050.28 2032.7L1050.71 2032.3L1051.14 2031.5L1051.71 2029.2L1052.28 2024.8L1052.85 2018.1L1053.71 2004.4L1056.28 1949.6L1056.71 1942.5L1057.27 1937.1L1057.7 1940.8L1058.27 1949.8L1060.96 2006.9L1061.7 2018.2L1062.41 2026.2L1062.84 2029.3L1063.12 2030.6L1063.55 2031.8L1063.98 2032.4L1064.4 2032.7L1068.66 2032.7L1069.08 2032.1L1069.51 2031L1070.08 2027.8L1070.66 2021.6L1071.23 2012.2L1072.08 1993.1L1074.66 1916.5L1075.08 1906.6L1075.64 1899.1L1076.07 1904.3L1076.64 1916.9L1079.34 1996.6L1080.07 2012.5L1080.79 2023.6L1081.21 2028L1081.5 2029.7L1081.93 2031.5L1082.36 2032.3L1082.77 2032.7L1087.03 2032.6L1087.46 2031.9L1087.89 2030.5L1088.46 2026.2L1089.03 2017.9L1089.6 2005.5L1090.46 1980L1093.03 1878L1093.46 1864.7L1094.02 1854.8L1094.45 1861.7L1095.02 1878.4L1097.71 1984.7L1098.45 2005.8L1099.16 2020.6L1099.59 2026.4L1099.88 2028.8L1100.3 2031.1L1100.73 2032.2L1101.15 2032.7L1105.41 2032.6L1105.83 2031.6L1106.26 2029.8L1106.83 2024.5L1107.41 2013.9L1107.98 1998.1L1108.83 1965.7L1111.41 1835.9L1111.83 1819.1L1112.39 1806.5L1112.82 1815.2L1113.39 1836.5L1116.09 1971.6L1116.82 1998.5L1117.54 2017.3L1117.96 2024.7L1118.25 2027.7L1118.68 2030.7L1119.11 2032.1L1119.52 2032.7L1123.78 2032.6L1124.21 2031.4L1124.64 2029.2L1125.21 2022.7L1125.78 2009.8L1126.35 1990.5L1127.21 1951.1L1129.78 1793L1130.21 1772.5L1130.77 1757.1L1131.2 1767.8L1131.77 1793.7L1134.46 1958.3L1135.2 1991L1135.91 2013.9L1136.34 2022.9L1136.63 2026.6L1137.05 2030.2L1137.48 2032L1137.9 2032.7L1142.01 2032.7L1142.16 2032.6L1142.58 2031.2L1143.01 2028.6L1143.58 2020.8L1144.16 2005.6L1144.73 1982.6L1145.58 1935.9L1148.16 1748.4L1148.58 1724.1L1149.14 1705.8L1149.57 1718.5L1150.14 1749.2L1152.84 1944.4L1153.57 1983.3L1154.29 2010.4L1154.71 2021.1L1155 2025.5L1155.43 2029.8L1155.86 2031.8L1156.27 2032.7L1160.39 2032.7L1160.53 2032.6L1160.96 2031L1161.39 2028L1161.96 2019.2L1162.53 2002L1163.1 1976L1163.96 1922.9L1166.53 1710.4L1166.96 1682.8L1167.52 1662.1L1167.95 1676.5L1168.52 1711.4L1171.21 1932.6L1171.95 1976.7L1172.66 2007.4L1173.09 2019.5L1173.38 2024.5L1173.8 2029.4L1174.23 2031.7L1174.52 2032.6L1174.65 2032.7L1178.76 2032.7L1178.91 2032.6L1179.33 2030.8L1179.76 2027.6L1180.33 2017.9L1180.91 1999L1181.48 1970.5L1182.33 1912.4L1184.91 1679.4L1185.33 1649.2L1185.89 1626.5L1186.32 1642.2L1186.89 1680.4L1189.59 1923L1190.32 1971.3L1191.04 2005L1191.46 2018.3L1191.75 2023.7L1192.18 2029.1L1192.61 2031.6L1192.89 2032.6L1193.02 2032.7L1197.14 2032.7L1197.28 2032.5L1197.71 2030.7L1198.14 2027.3L1198.71 2017.2L1199.28 1997.3L1199.85 1967.3L1200.71 1906.2L1203.28 1661.4L1203.71 1629.6L1204.27 1605.8L1204.7 1622.3L1205.27 1662.5L1207.96 1917.4L1208.7 1968.2L1209.41 2003.6L1209.84 2017.5L1210.13 2023.2L1210.55 2028.9L1210.98 2031.6L1211.27 2032.6L1211.4 2032.7L1215.51 2032.7L1215.66 2032.5L1216.08 2030.7L1216.51 2027.2L1217.08 2016.8L1217.66 1996.4L1218.23 1965.7L1219.08 1903L1221.66 1651.8L1222.08 1619.3L1222.64 1594.8L1223.07 1611.8L1223.64 1653L1226.07 1891.1L1227.07 1966.5L1227.64 1996.9L1228.21 2017.1L1228.79 2027.3L1229.21 2030.7L1229.64 2032.6L1229.77 2032.7L1233.89 2032.7L1234.03 2032.5L1234.32 2031.5L1234.75 2028.8L1235.17 2022.9L1235.46 2017.1L1235.89 2002.8L1236.6 1966.8L1237.32 1916.5L1240.03 1658.5L1240.46 1626.5L1241.02 1602.5L1241.45 1619.1L1242.02 1659.6L1244.45 1893.6L1245.45 1967.7L1246.02 1997.6L1246.59 2017.4L1247.16 2027.4L1247.59 2030.8L1248.02 2032.6L1248.15 2032.7L1252.26 2032.7L1252.41 2032.6L1252.69 2031.5L1253.12 2028.9L1253.55 2023.4L1253.83 2017.8L1254.26 2004.3L1254.98 1970L1255.7 1922.1L1258.41 1676.5L1258.83 1646L1259.39 1623.1L1259.82 1639L1260.39 1677.6L1262.82 1900.3L1263.82 1970.8L1264.39 1999.3L1264.96 2018.1L1265.54 2027.7L1265.96 2030.9L1266.39 2032.6L1266.52 2032.7L1270.64 2032.7L1270.78 2032.6L1271.07 2031.6L1271.5 2029.3L1271.92 2024.2L1272.21 2019L1272.64 2006.6L1273.35 1975.1L1274.07 1931.1L1276.78 1705.5L1277.21 1677.5L1277.77 1656.5L1278.2 1671L1278.77 1706.5L1281.2 1911.1L1282.2 1975.8L1282.77 2002L1283.34 2019.3L1283.91 2028.1L1284.34 2031L1284.77 2032.6L1284.9 2032.7L1289.01 2032.7L1289.16 2032.6L1289.44 2031.8L1289.87 2029.6L1290.3 2025L1290.58 2020.5L1291.01 2009.3L1291.73 1981.1L1292.45 1941.6L1295.16 1739.4L1295.58 1714.3L1296.14 1695.5L1296.57 1708.5L1297.14 1740.3L1299.57 1923.7L1300.57 1981.7L1301.14 2005.2L1301.71 2020.7L1302.29 2028.6L1302.71 2031.2L1303.14 2032.6L1307.39 2032.7L1307.53 2032.6L1307.82 2031.9L1308.25 2030.1L1308.67 2026.2L1308.96 2022.2L1309.39 2012.7L1310.1 1988.6L1310.82 1955L1313.53 1782.3L1313.96 1760.9L1314.52 1744.8L1314.95 1755.9L1315.52 1783L1317.95 1939.6L1318.95 1989.2L1319.52 2009.2L1320.09 2022.5L1320.66 2029.2L1321.09 2031.4L1321.52 2032.6L1325.76 2032.7L1326.19 2032L1326.62 2030.5L1327.05 2027.2L1327.33 2023.9L1327.76 2015.9L1328.48 1995.7L1329.2 1967.4L1331.91 1822.3L1332.33 1804.3L1332.89 1790.8L1333.32 1800.2L1333.89 1822.9L1336.32 1954.5L1337.32 1996.1L1337.89 2012.9L1338.46 2024.1L1339.04 2029.7L1339.46 2031.6L1339.89 2032.6L1344.14 2032.7L1344.57 2032.2L1345 2030.9L1345.42 2028.3L1345.71 2025.7L1346.14 2019.3L1346.85 2003.2L1347.57 1980.6L1350.28 1864.9L1350.71 1850.6L1351.27 1839.8L1351.7 1847.3L1352.27 1865.4L1354.7 1970.3L1355.7 2003.5L1356.27 2016.9L1356.84 2025.8L1357.41 2030.3L1357.84 2031.8L1358.27 2032.6L1362.51 2032.7L1362.94 2032.3L1363.37 2031.3L1363.8 2029.3L1364.08 2027.2L1364.51 2022.1L1365.23 2009.4L1365.95 1991.7L1368.66 1900.6L1369.08 1889.3L1369.64 1880.8L1370.07 1886.7L1370.64 1901L1373.07 1983.6L1374.07 2009.7L1374.64 2020.3L1375.21 2027.3L1375.79 2030.8L1376.21 2032L1376.64 2032.7L1380.89 2032.7L1381.32 2032.4L1381.75 2031.7L1382.17 2030.1L1382.46 2028.6L1382.89 2024.9L1383.6 2015.4L1384.32 2002.2L1387.03 1934.5L1387.46 1926.1L1388.02 1919.8L1388.45 1924.2L1389.02 1934.8L1391.45 1996.2L1392.45 2015.6L1393.02 2023.5L1393.59 2028.7L1394.16 2031.3L1394.59 2032.2L1395.02 2032.7L1399.26 2032.7L1399.69 2032.5L1400.12 2031.9L1400.55 2030.8L1400.83 2029.7L1401.26 2026.9L1401.98 2020L1402.7 2010.3L1405.41 1960.6L1405.83 1954.4L1406.39 1949.8L1406.82 1953L1407.39 1960.8L1409.82 2005.9L1410.82 2020.2L1411.39 2025.9L1411.96 2029.8L1412.54 2031.7L1412.96 2032.3L1413.39 2032.7L1417.64 2032.7L1418.07 2032.5L1418.5 2032.2L1418.92 2031.4L1419.21 2030.6L1419.64 2028.7L1420.35 2024L1421.07 2017.3L1423.78 1983.2L1424.21 1979L1424.77 1975.8L1425.2 1978L1425.77 1983.3L1428.2 2014.3L1429.2 2024.1L1429.77 2028.1L1430.34 2030.7L1430.91 2032L1431.77 2032.7L1436.01 2032.7L1436.44 2032.6L1436.87 2032.3L1437.3 2031.8L1438.01 2030L1438.73 2026.8L1439.45 2022.3L1442.16 1999.1L1442.58 1996.3L1443.14 1994.1L1443.57 1995.6L1444.14 1999.2L1446.57 2020.2L1447.57 2026.9L1448.14 2029.5L1448.71 2031.3L1449.29 2032.2L1450 2032.7L1454.67 2032.7L1455.53 2032.3L1456.25 2031.3L1456.96 2029.4L1457.82 2026.1L1460.53 2011.3L1460.96 2009.5L1461.52 2008.1L1461.95 2009.1L1462.52 2011.4L1464.95 2024.8L1465.95 2029L1466.52 2030.7L1467.09 2031.8L1467.66 2032.4L1468.38 2032.7L1473.05 2032.7L1473.91 2032.4L1474.62 2031.8L1475.33 2030.6L1476.2 2028.5L1478.91 2019.1L1479.33 2018L1479.89 2017.1L1480.32 2017.7L1480.89 2019.2L1483.32 2027.7L1484.32 2030.3L1484.89 2031.4L1485.46 2032.1L1486.04 2032.5L1486.75 2032.7L1491.42 2032.7L1492.28 2032.6L1493 2032.2L1493.71 2031.6L1494.57 2030.4L1497.28 2025.2L1497.71 2024.6L1498.27 2024.1L1498.7 2024.4L1499.27 2025.3L1501.7 2029.9L1502.55 2031.2L1503.7 2032.3L1504.98 2032.7L1509.8 2032.7L1511.37 2032.4L1512.95 2031.2L1515.66 2027.8L1516.64 2027.1L1517.64 2027.9L1520.07 2030.9L1520.93 2031.7L1521.93 2032.4L1523.07 2032.7L1528.03 2032.7L1529.75 2032.5L1531.32 2031.9L1534.03 2030.2L1535.02 2029.8L1536.02 2030.2L1539.16 2032.1L1540.3 2032.5L1541.3 2032.7L1548.12 2032.6L1553.39 2031.5L1557.39 2032.4L1559.39 2032.7L1583.79 2032.7" fill="none" stroke="#000" stroke-width="2.9" stroke-linejoin="round"/>
<path d="M1239.5 1601.8L1342.1 1601.8L1345.9 1601.6L1350.5 1600.4L1352.5 1600.2L1354.5 1600.4L1361.1 1601.7L1367.5 1601.8L1370.1 1601.6L1371.7 1601.2L1373.1 1600.3L1376.3 1597.5L1377.3 1597L1378.3 1596.8L1380.3 1597.4L1383.1 1599.3L1386.9 1601.3L1388.7 1601.8L1393 1601.8L1395.6 1601.4L1397.2 1600.6L1398.8 1598.5L1402 1592.4L1403 1591.2L1404 1590.8L1405 1591.2L1406 1592.1L1408.8 1596.3L1411.2 1599.4L1412.6 1600.8L1414.4 1601.8L1418.5 1601.8L1421.3 1601.2L1422.3 1600.6L1422.9 1599.9L1424.5 1596.5L1427.7 1586.6L1428.7 1584.8L1429.7 1584.2L1430.7 1584.7L1431.7 1586.2L1434.5 1593L1436.9 1597.9L1438.3 1600.2L1440.1 1601.8L1444.2 1601.7L1446.2 1601.2L1447 1600.7L1448.1 1599.6L1448.6 1598.5L1450.2 1592.6L1453.4 1575.2L1454.4 1571.9L1455 1571.1L1455.5 1570.8L1456.5 1571.8L1457.5 1574.4L1460.2 1586.4L1462.7 1595L1464 1599L1465.9 1601.8L1469.6 1601.6L1471.4 1600.9L1472.8 1599.8L1474 1597.8L1474.6 1595.8L1475.6 1590.4L1475.8 1586.4L1479 1561.5L1480.2 1555.6L1481.2 1553.5L1481.5 1555.9L1482.4 1558.2L1483.4 1562.2L1486 1578.7L1488.2 1591L1489.2 1595.5L1490.2 1598.8L1491.6 1601.8L1492.8 1601.8L1492.8 1601.5L1495.9 1599.8L1498.1 1597.6L1499.7 1594.7L1500.6 1591L1501.3 1585.5L1501.5 1564.5L1502.8 1552.6L1504.7 1537.6L1505.7 1531.5L1506.8 1526.7L1506.9 1525.2L1507.2 1540.4L1507.5 1544.1L1509.1 1550.2L1510.3 1557.4L1513.9 1589.5L1514.9 1594.9L1515.9 1598.5L1517.3 1601.5L1518.3 1601.5L1518.5 1600.9L1521.3 1597L1525.5 1589.8L1526.1 1588.4L1526.7 1586L1527 1581.3L1527.2 1523.3L1528.1 1515.9L1529.7 1510.7L1531.7 1500.4L1532.3 1496L1532.6 1489.5L1532.9 1532.8L1533.3 1543.7L1534 1545.7L1535.2 1547.3L1535.6 1548.2L1536.2 1551L1537.6 1566.4L1539.4 1590.6L1539.8 1593.9L1540.6 1597.4L1541.4 1599.3L1542.4 1600.5L1543 1600.8L1544 1600.9L1546.6 1595.7L1550 1587.3L1551.4 1584.4L1552.4 1580.2L1552.8 1573.6L1552.9 1489.8L1553.8 1479.9L1555.4 1474.1L1557.4 1460.7L1558 1454.6L1558.3 1445.2L1558.6 1507.8L1559 1523.5L1559.8 1526.1L1560.9 1527.7L1561.3 1528.6L1561.9 1532.3L1563.3 1553.3L1565.1 1587.2L1565.5 1591.6L1566.3 1596.2L1567.3 1599L1568.1 1600.1L1569.9 1600.5L1570 1600.1L1573 1591.9L1575.8 1582.5L1577.2 1578.7L1578.2 1573.1L1578.5 1564.3L1578.7 1452.9L1579.5 1439.7L1581.2 1432L1583.2 1414.2L1583.8 1406.1L1584.1 1393.5L1584.4 1476.8L1584.8 1497.7L1585.5 1501.2L1586.7 1503.3L1587.1 1504.5L1587.7 1509.3L1589.1 1537.3L1590.9 1582.4L1591.3 1588.2L1592.1 1594.4L1592.9 1597.5L1593.9 1599.6L1595.5 1600.1L1597.9 1592.1L1601.5 1576.9L1602.7 1572.8L1603.3 1569.8L1603.9 1564.7L1604.2 1553.4L1604.4 1409.5L1605.3 1392.5L1606.9 1382.6L1608.9 1359.6L1609.5 1349L1609.8 1332.8L1610.1 1440.4L1610.5 1467.3L1611.2 1471.9L1612.4 1474.6L1612.8 1476.2L1613.4 1482.4L1614.8 1518.6L1616.6 1576.7L1617 1584.3L1617.8 1592.3L1618.8 1597L1619.6 1598.9L1620.4 1599.4L1621.4 1599.6L1624 1588.4L1627.2 1572L1628.6 1566.2L1629.6 1557.5L1629.9 1544L1630.1 1372.3L1631 1352.1L1632.6 1340.2L1634.6 1312.7L1635.2 1300.2L1635.5 1280.8L1635.8 1409.2L1636.2 1441.3L1636.9 1446.8L1638.1 1450L1638.5 1451.9L1639.1 1459.3L1640.5 1502.5L1642.3 1571.8L1642.7 1580.9L1643.5 1590.4L1644.3 1595.2L1645.3 1598.4L1646.1 1599L1646.9 1599.2L1647.7 1596.2L1649.3 1588.5L1652.9 1567.7L1654.1 1562.2L1654.7 1558L1655.3 1551.1L1655.7 1535.6L1655.8 1338.9L1656.7 1315.8L1658.3 1302.1L1660.3 1270.7L1660.9 1256.3L1661.2 1234.2L1661.5 1381.2L1662 1418L1662.7 1424.2L1663.8 1428L1664.2 1430.1L1664.8 1438.6L1666.2 1488L1668 1567.5L1668.5 1577.9L1669.2 1588.8L1670.2 1595.2L1671 1597.9L1671.8 1598.5L1672.8 1598.9L1675.3 1586.1L1678.7 1564.2L1680.1 1556.9L1681.1 1545.9L1681.4 1528.9L1681.6 1312.2L1682.5 1286.7L1684.1 1271.7L1686.1 1237.1L1686.7 1221.2L1687 1196.8L1687.3 1358.8L1687.7 1399.3L1688.4 1406.2L1689.6 1410.3L1690 1412.6L1690.6 1422L1692 1476.5L1693.8 1564L1694.2 1575.4L1695 1587.4L1696 1594.5L1696.8 1597.5L1697.8 1598.3L1698.6 1598.5L1701 1585.7L1704.4 1563.4L1705.8 1555.9L1706.8 1544.7L1707.1 1527.3L1707.3 1305.8L1708.2 1279.7L1709.8 1264.4L1711.8 1229L1712.4 1212.8L1712.7 1187.8L1713 1353.4L1713.3 1390.9L1713.4 1394.8L1713.9 1400.5L1714.3 1402.9L1715.3 1406.1L1715.7 1408.4L1716.3 1418L1717.5 1464.8L1719.8 1572.8L1720.5 1584.7L1721.1 1590.8L1722.1 1596.2L1722.5 1597.4L1723.1 1598L1724.3 1598.5L1726.3 1588.4L1730.1 1564.5L1731.5 1557.2L1732.5 1546.3L1732.8 1529.4L1733 1314.2L1733.9 1288.8L1735.5 1273.9L1737.5 1239.5L1738.1 1223.7L1738.4 1199.5L1738.7 1360.4L1739 1396.8L1739.1 1400.7L1739.6 1406.2L1740 1408.5L1741 1411.6L1741.4 1413.9L1742 1423.2L1743.2 1468.6L1745.5 1573.6L1746.2 1585.2L1746.8 1591.1L1747.8 1596.3L1748.2 1597.5L1748.8 1598.1L1750 1598.6L1750 1598.7L1751.8 1590.1L1755.8 1566.4L1757.2 1559.5L1758.2 1549.1L1758.6 1533.1L1758.8 1328.9L1759.6 1304.9L1761.2 1290.7L1763.2 1258.1L1763.8 1243.2L1764.2 1220.2L1764.5 1372.8L1764.8 1407.4L1764.9 1411L1765.4 1416.2L1765.8 1418.4L1766.8 1421.4L1767.2 1423.5L1767.8 1432.4L1769 1475.5L1771.2 1575.1L1772 1586L1772.6 1591.6L1773.6 1596.6L1774 1597.7L1774.4 1598.1L1775.2 1598.6L1775.8 1598.7L1777.3 1592.6L1781.5 1571L1783 1565L1784 1556L1784.3 1542.1L1784.5 1364.7L1785.3 1343.8L1787 1331.5L1789 1303.1L1789.5 1290.1L1789.9 1270.2L1790.2 1402.8L1790.5 1432.8L1790.6 1436L1791.1 1440.5L1791.5 1442.4L1792.5 1445L1792.9 1446.9L1793.5 1454.6L1794.7 1492L1797 1578.6L1797.7 1588.1L1798.3 1593L1799.3 1597.3L1799.7 1598.2L1800.1 1598.6L1801.5 1599.1L1801.5 1599.6L1803.1 1594L1807.3 1575.8L1808.7 1570.8L1809.7 1563.2L1810 1551.4L1810.2 1401.6L1811.1 1384L1812.7 1373.6L1814.7 1349.7L1815.3 1338.7L1815.6 1321.8L1815.9 1433.8L1816.2 1459.2L1816.3 1461.8L1816.8 1465.7L1817.2 1467.3L1818.4 1470.1L1819 1474.1L1820.4 1509.1L1822.6 1580.5L1823.2 1588.3L1823.8 1593.2L1824.8 1597.4L1825.6 1599L1826.6 1599.5L1827.4 1599.5L1828.4 1596.7L1830.4 1590.3L1833 1580.8L1834.4 1576.7L1835.4 1570.5L1835.7 1561L1835.9 1439.8L1836.8 1425.5L1838.4 1417.1L1840.4 1397.7L1841 1388.8L1841.3 1375.2L1841.6 1465.8L1842 1488.5L1842.7 1492.3L1843.9 1494.6L1844.3 1495.9L1844.9 1501.2L1846.3 1531.7L1848.1 1580.6L1848.5 1587.1L1849.3 1593.8L1850.1 1597.1L1851.1 1599.4L1851.9 1599.8L1852.9 1600L1852.9 1600.4L1855.3 1595.1L1858.7 1585.8L1860.1 1582.7L1861.1 1578L1861.5 1570.8L1861.7 1478.5L1862.5 1467.6L1864.1 1461.2L1866.1 1446.5L1866.7 1439.7L1867.1 1429.3L1867.4 1498.3L1867.7 1513.9L1867.8 1515.6L1868.3 1517.9L1868.7 1518.9L1869.9 1520.7L1870.5 1523.1L1871.9 1544.7L1874.1 1588.7L1874.7 1593.5L1875.3 1596.5L1876.3 1599.1L1877.1 1600.1L1878.9 1600.5L1879.9 1598.8L1881.9 1595.2L1884.5 1589.7L1885.9 1587.3L1886.9 1583.8L1887.2 1578.3L1887.4 1508.4L1888.2 1500.2L1889.9 1495.3L1891.9 1484.2L1892.5 1479L1892.8 1471.2L1893.1 1523.4L1893.5 1536.5L1894.2 1538.7L1895.4 1540L1895.8 1540.8L1896.4 1543.8L1897.8 1561.4L1899.6 1589.6L1900.2 1594.5L1901 1597.8L1902 1599.8L1902.6 1600.4L1904.4 1600.8L1904.6 1601.1L1906.5 1599.5L1907.7 1598.3L1909.5 1595.9L1910.7 1593.9L1911.7 1591.5L1912.6 1587.3L1912.9 1583.4L1913.1 1548.2L1914.2 1538.4L1916.5 1523L1918.2 1513.5L1918.5 1509.5L1918.8 1535.4L1919.1 1541.5L1920.9 1547.9L1921.9 1553L1925.3 1588.4L1925.9 1592.6L1926.7 1596.4L1927.7 1599.2L1928.9 1601.2L1930.1 1601.3L1930.1 1601.6L1932.8 1600.9L1935.2 1599.1L1936.8 1596.6L1937.6 1593.9L1938.6 1587.5L1938.8 1575.4L1940.2 1562.9L1942.2 1547L1943.2 1541.5L1944.2 1537.8L1944.6 1547.2L1944.8 1548.5L1946.2 1553.5L1947 1558.2L1951.2 1589.7L1952.8 1597.3L1953.6 1599.6L1954.6 1601.6L1956 1601.8L1958.1 1601.7L1959.9 1601.2L1961.5 1600.2L1962.5 1598.7L1962.9 1597.8L1964.4 1591.4L1966.1 1577.1L1967.9 1564.6L1968.9 1560.2L1969.3 1559.3L1970 1558.5L1971.2 1561.4L1972 1564.3L1974.8 1580.6L1977.5 1594.3L1978.7 1598.4L1980.4 1601.8L1984.1 1601.8L1986.1 1601.4L1987.5 1600.7L1988.7 1599.3L1989.5 1597.2L1990.5 1593.7L1993.7 1578.3L1994.7 1575.5L1995.3 1574.7L1995.7 1574.5L1996.7 1575.4L1997.7 1577.6L2000.5 1588.2L2003.5 1597.4L2004.5 1599.6L2006.1 1601.8L2009.8 1601.8L2011.8 1601.5L2013.2 1601.1L2014.4 1600.2L2016.2 1596.5L2019.4 1586.6L2020.4 1584.8L2021.4 1584.2L2022.4 1584.7L2023.4 1586.2L2026.2 1593L2029.2 1599L2030.2 1600.4L2031.8 1601.8L2037.5 1601.6L2038.9 1601.4L2040.1 1600.8L2041.9 1598.5L2045.1 1592.4L2046.1 1591.2L2047.1 1590.8L2048.1 1591.2L2049.1 1592.1L2051.9 1596.3L2054.9 1600L2055.9 1600.9L2057.4 1601.8L2062.6 1601.7L2065.6 1601.2L2067.4 1599.8L2070.8 1595.2L2071.8 1594.4L2072.8 1594.2L2073.8 1594.4L2074.8 1595L2077.7 1598L2080.7 1600.6L2083.1 1601.8L2088.4 1601.8L2091.4 1601.5L2093.2 1600.6L2096.6 1598.1L2097.6 1597.7L2098.6 1597.5L2100.6 1598L2103.4 1599.7L2106.4 1601.1L2108.9 1601.8L2117.1 1601.6L2118.9 1601.2L2122.3 1599.8L2124.3 1599.5L2126.3 1599.8L2132.1 1601.4L2134.6 1601.8L2269.3 1601.8" fill="none" stroke="#e60000" stroke-width="7" stroke-linejoin="round"/>
<path d="M1292 2054.7V2081.7M1549.2 2054.7V2081.7M1806.5 2054.7V2081.7M2063.8 2054.7V2081.7M1420.6 2054.7V2067.3M1677.9 2054.7V2067.3M1935.1 2054.7V2067.3M2192.4 2054.7V2067.3" fill="none" stroke="#000" stroke-width="9.2"/>
<text class="tk" transform="translate(1291.4 2156.4) scale(1 1.05)">2030</text>
<text class="tk" transform="translate(1548.6 2156.4) scale(1 1.05)">2035</text>
<text class="tk" transform="translate(1805.9 2156.4) scale(1 1.05)">2040</text>
<text class="tk" transform="translate(2063.1 2156.4) scale(1 1.05)">2045</text>
<text class="mz" x="2202.8" y="2146.7">m/z</text>
<text class="lt" x="1268.2" y="1199">d</text>
<text class="pk" x="1774" y="1197.2">2038.2</text>
</g>
</svg>
</body></html>
